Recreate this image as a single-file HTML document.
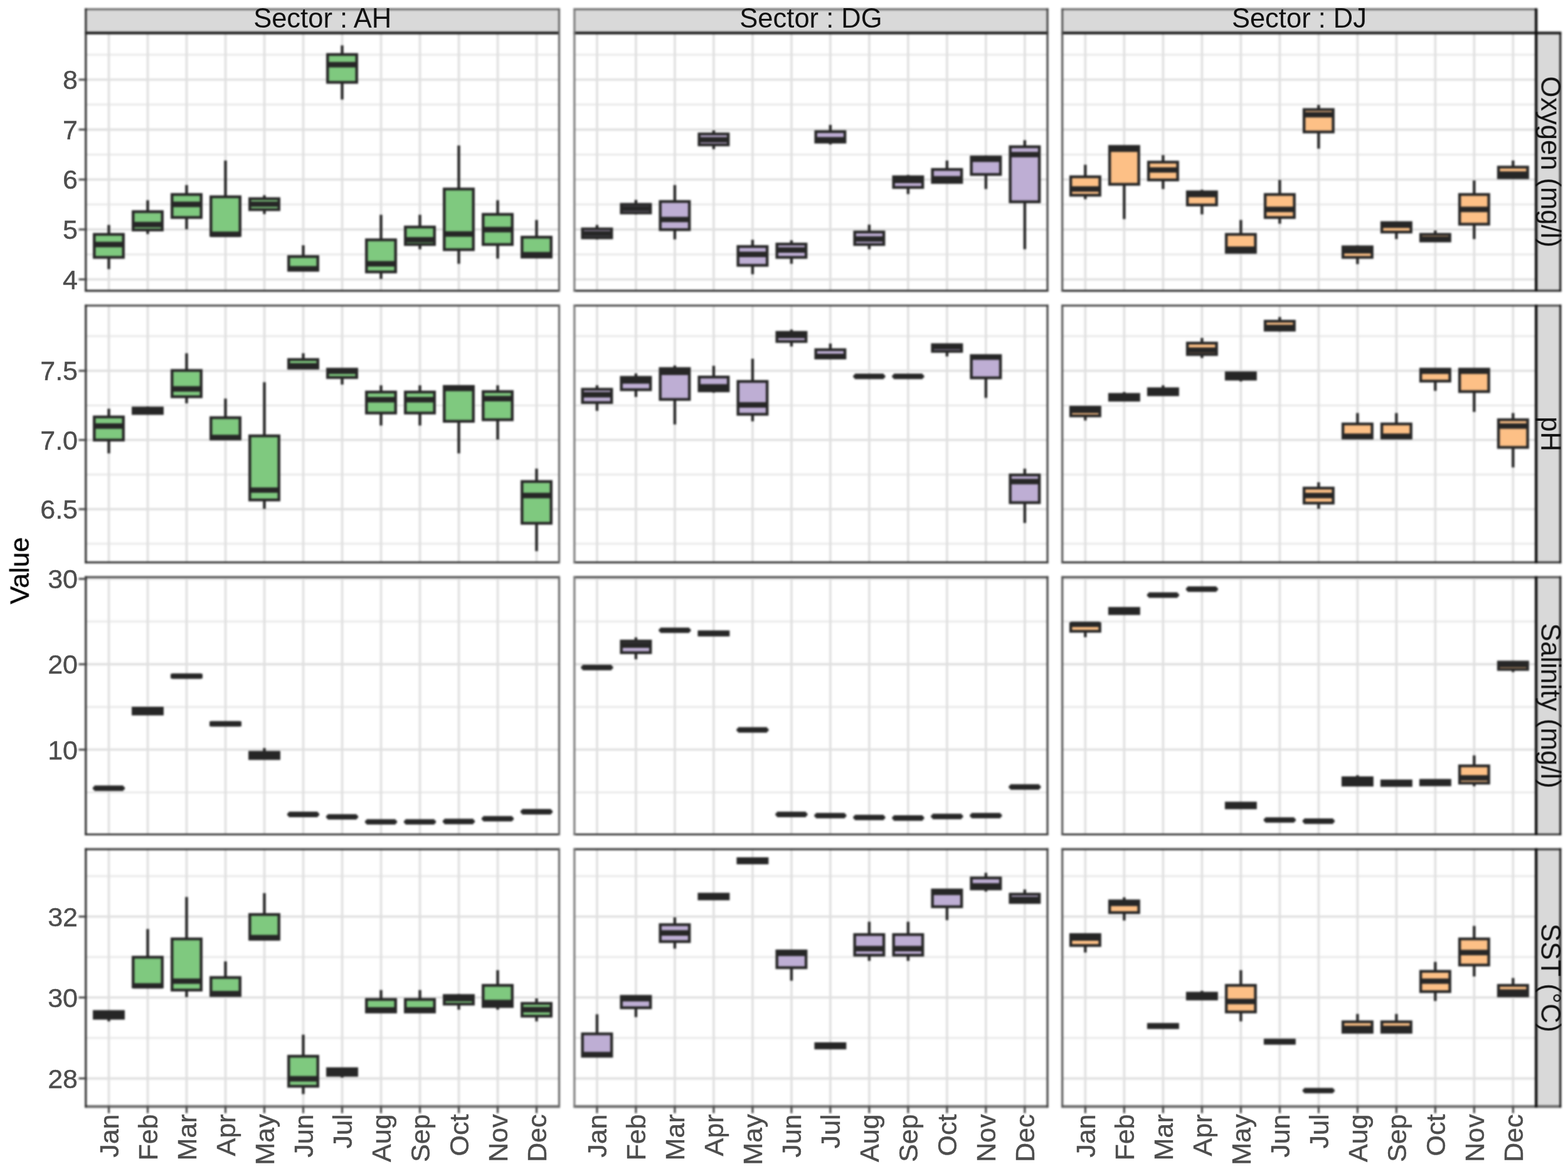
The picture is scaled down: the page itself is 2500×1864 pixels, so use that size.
<!DOCTYPE html>
<html><head><meta charset="utf-8"><title>Boxplots</title>
<style>html,body{margin:0;padding:0;background:#fff;}svg{display:block;}text{font-family:"Liberation Sans",Arial,Helvetica,sans-serif;}</style></head><body>
<svg xmlns="http://www.w3.org/2000/svg" width="2500" height="1864" viewBox="0 0 2500 1864">
<defs><filter id="bg" color-interpolation-filters="sRGB" x="-2%" y="-2%" width="104%" height="104%"><feGaussianBlur stdDeviation="1.4"/></filter><filter id="bt" color-interpolation-filters="sRGB" x="-5%" y="-5%" width="110%" height="110%"><feGaussianBlur stdDeviation="0.6"/></filter></defs>
<rect x="0" y="0" width="2500" height="1864" fill="#ffffff"/>
<g filter="url(#bg)">
<g>
<line x1="136.8" y1="405.69" x2="891.5" y2="405.69" stroke="#E9E9E9" stroke-width="3.0"/>
<line x1="136.8" y1="326.06" x2="891.5" y2="326.06" stroke="#E9E9E9" stroke-width="3.0"/>
<line x1="136.8" y1="246.44" x2="891.5" y2="246.44" stroke="#E9E9E9" stroke-width="3.0"/>
<line x1="136.8" y1="166.81" x2="891.5" y2="166.81" stroke="#E9E9E9" stroke-width="3.0"/>
<line x1="136.8" y1="87.19" x2="891.5" y2="87.19" stroke="#E9E9E9" stroke-width="3.0"/>
<line x1="136.8" y1="445.5" x2="891.5" y2="445.5" stroke="#E0E0E0" stroke-width="3.6"/>
<line x1="136.8" y1="365.88" x2="891.5" y2="365.88" stroke="#E0E0E0" stroke-width="3.6"/>
<line x1="136.8" y1="286.25" x2="891.5" y2="286.25" stroke="#E0E0E0" stroke-width="3.6"/>
<line x1="136.8" y1="206.62" x2="891.5" y2="206.62" stroke="#E0E0E0" stroke-width="3.6"/>
<line x1="136.8" y1="127" x2="891.5" y2="127" stroke="#E0E0E0" stroke-width="3.6"/>
<line x1="173.5" y1="52.65" x2="173.5" y2="463.6" stroke="#E0E0E0" stroke-width="3.6"/>
<line x1="235.5" y1="52.65" x2="235.5" y2="463.6" stroke="#E0E0E0" stroke-width="3.6"/>
<line x1="297.5" y1="52.65" x2="297.5" y2="463.6" stroke="#E0E0E0" stroke-width="3.6"/>
<line x1="359.5" y1="52.65" x2="359.5" y2="463.6" stroke="#E0E0E0" stroke-width="3.6"/>
<line x1="421.5" y1="52.65" x2="421.5" y2="463.6" stroke="#E0E0E0" stroke-width="3.6"/>
<line x1="483.5" y1="52.65" x2="483.5" y2="463.6" stroke="#E0E0E0" stroke-width="3.6"/>
<line x1="545.5" y1="52.65" x2="545.5" y2="463.6" stroke="#E0E0E0" stroke-width="3.6"/>
<line x1="607.5" y1="52.65" x2="607.5" y2="463.6" stroke="#E0E0E0" stroke-width="3.6"/>
<line x1="669.5" y1="52.65" x2="669.5" y2="463.6" stroke="#E0E0E0" stroke-width="3.6"/>
<line x1="731.5" y1="52.65" x2="731.5" y2="463.6" stroke="#E0E0E0" stroke-width="3.6"/>
<line x1="793.5" y1="52.65" x2="793.5" y2="463.6" stroke="#E0E0E0" stroke-width="3.6"/>
<line x1="855.5" y1="52.65" x2="855.5" y2="463.6" stroke="#E0E0E0" stroke-width="3.6"/>
<line x1="173.5" y1="358.7" x2="173.5" y2="373.7" stroke="#262626" stroke-width="4.4"/>
<line x1="173.5" y1="410.4" x2="173.5" y2="429.1" stroke="#262626" stroke-width="4.4"/>
<rect x="150.25" y="373.7" width="46.5" height="36.7" fill="#7FC97F" stroke="#262626" stroke-width="4.4"/>
<line x1="150.25" y1="389.9" x2="196.75" y2="389.9" stroke="#262626" stroke-width="8.7"/>
<line x1="235.5" y1="319.3" x2="235.5" y2="337.5" stroke="#262626" stroke-width="4.4"/>
<line x1="235.5" y1="366.7" x2="235.5" y2="373.2" stroke="#262626" stroke-width="4.4"/>
<rect x="212.25" y="337.5" width="46.5" height="29.2" fill="#7FC97F" stroke="#262626" stroke-width="4.4"/>
<line x1="212.25" y1="358.2" x2="258.75" y2="358.2" stroke="#262626" stroke-width="8.7"/>
<line x1="297.5" y1="295.1" x2="297.5" y2="310.1" stroke="#262626" stroke-width="4.4"/>
<line x1="297.5" y1="346.8" x2="297.5" y2="365.7" stroke="#262626" stroke-width="4.4"/>
<rect x="274.25" y="310.1" width="46.5" height="36.7" fill="#7FC97F" stroke="#262626" stroke-width="4.4"/>
<line x1="274.25" y1="325.8" x2="320.75" y2="325.8" stroke="#262626" stroke-width="8.7"/>
<line x1="359.5" y1="256" x2="359.5" y2="313.8" stroke="#262626" stroke-width="4.4"/>
<rect x="336.25" y="313.8" width="46.5" height="61.6" fill="#7FC97F" stroke="#262626" stroke-width="4.4"/>
<line x1="336.25" y1="373.7" x2="382.75" y2="373.7" stroke="#262626" stroke-width="8.7"/>
<line x1="421.5" y1="311.3" x2="421.5" y2="316.8" stroke="#262626" stroke-width="4.4"/>
<line x1="421.5" y1="334.3" x2="421.5" y2="341.3" stroke="#262626" stroke-width="4.4"/>
<rect x="398.25" y="316.8" width="46.5" height="17.5" fill="#7FC97F" stroke="#262626" stroke-width="4.4"/>
<line x1="398.25" y1="325.5" x2="444.75" y2="325.5" stroke="#262626" stroke-width="8.7"/>
<line x1="483.5" y1="391.1" x2="483.5" y2="409.1" stroke="#262626" stroke-width="4.4"/>
<rect x="460.25" y="409.1" width="46.5" height="21.9" fill="#7FC97F" stroke="#262626" stroke-width="4.4"/>
<line x1="460.25" y1="428.5" x2="506.75" y2="428.5" stroke="#262626" stroke-width="8.7"/>
<line x1="545.5" y1="72.4" x2="545.5" y2="86.9" stroke="#262626" stroke-width="4.4"/>
<line x1="545.5" y1="131.3" x2="545.5" y2="158.7" stroke="#262626" stroke-width="4.4"/>
<rect x="522.25" y="86.9" width="46.5" height="44.4" fill="#7FC97F" stroke="#262626" stroke-width="4.4"/>
<line x1="522.25" y1="103.1" x2="568.75" y2="103.1" stroke="#262626" stroke-width="8.7"/>
<line x1="607.5" y1="342.5" x2="607.5" y2="382.4" stroke="#262626" stroke-width="4.4"/>
<line x1="607.5" y1="433.6" x2="607.5" y2="444.8" stroke="#262626" stroke-width="4.4"/>
<rect x="584.25" y="382.4" width="46.5" height="51.2" fill="#7FC97F" stroke="#262626" stroke-width="4.4"/>
<line x1="584.25" y1="420.6" x2="630.75" y2="420.6" stroke="#262626" stroke-width="8.7"/>
<line x1="669.5" y1="342.5" x2="669.5" y2="362" stroke="#262626" stroke-width="4.4"/>
<line x1="669.5" y1="389.9" x2="669.5" y2="397.4" stroke="#262626" stroke-width="4.4"/>
<rect x="646.25" y="362" width="46.5" height="27.9" fill="#7FC97F" stroke="#262626" stroke-width="4.4"/>
<line x1="646.25" y1="382.4" x2="692.75" y2="382.4" stroke="#262626" stroke-width="8.7"/>
<line x1="731.5" y1="232" x2="731.5" y2="301.4" stroke="#262626" stroke-width="4.4"/>
<line x1="731.5" y1="398.1" x2="731.5" y2="420.6" stroke="#262626" stroke-width="4.4"/>
<rect x="708.25" y="301.4" width="46.5" height="96.7" fill="#7FC97F" stroke="#262626" stroke-width="4.4"/>
<line x1="708.25" y1="373.2" x2="754.75" y2="373.2" stroke="#262626" stroke-width="8.7"/>
<line x1="793.5" y1="319.3" x2="793.5" y2="341.8" stroke="#262626" stroke-width="4.4"/>
<line x1="793.5" y1="389.9" x2="793.5" y2="412.3" stroke="#262626" stroke-width="4.4"/>
<rect x="770.25" y="341.8" width="46.5" height="48.1" fill="#7FC97F" stroke="#262626" stroke-width="4.4"/>
<line x1="770.25" y1="366.2" x2="816.75" y2="366.2" stroke="#262626" stroke-width="8.7"/>
<line x1="855.5" y1="350.8" x2="855.5" y2="378.2" stroke="#262626" stroke-width="4.4"/>
<line x1="855.5" y1="409.9" x2="855.5" y2="411.1" stroke="#262626" stroke-width="4.4"/>
<rect x="832.25" y="378.2" width="46.5" height="31.7" fill="#7FC97F" stroke="#262626" stroke-width="4.4"/>
<line x1="832.25" y1="406.1" x2="878.75" y2="406.1" stroke="#262626" stroke-width="8.7"/>
</g>
<g>
<line x1="915.85" y1="405.69" x2="1670.1" y2="405.69" stroke="#E9E9E9" stroke-width="3.0"/>
<line x1="915.85" y1="326.06" x2="1670.1" y2="326.06" stroke="#E9E9E9" stroke-width="3.0"/>
<line x1="915.85" y1="246.44" x2="1670.1" y2="246.44" stroke="#E9E9E9" stroke-width="3.0"/>
<line x1="915.85" y1="166.81" x2="1670.1" y2="166.81" stroke="#E9E9E9" stroke-width="3.0"/>
<line x1="915.85" y1="87.19" x2="1670.1" y2="87.19" stroke="#E9E9E9" stroke-width="3.0"/>
<line x1="915.85" y1="445.5" x2="1670.1" y2="445.5" stroke="#E0E0E0" stroke-width="3.6"/>
<line x1="915.85" y1="365.88" x2="1670.1" y2="365.88" stroke="#E0E0E0" stroke-width="3.6"/>
<line x1="915.85" y1="286.25" x2="1670.1" y2="286.25" stroke="#E0E0E0" stroke-width="3.6"/>
<line x1="915.85" y1="206.62" x2="1670.1" y2="206.62" stroke="#E0E0E0" stroke-width="3.6"/>
<line x1="915.85" y1="127" x2="1670.1" y2="127" stroke="#E0E0E0" stroke-width="3.6"/>
<line x1="951.9" y1="52.65" x2="951.9" y2="463.6" stroke="#E0E0E0" stroke-width="3.6"/>
<line x1="1013.9" y1="52.65" x2="1013.9" y2="463.6" stroke="#E0E0E0" stroke-width="3.6"/>
<line x1="1075.9" y1="52.65" x2="1075.9" y2="463.6" stroke="#E0E0E0" stroke-width="3.6"/>
<line x1="1137.9" y1="52.65" x2="1137.9" y2="463.6" stroke="#E0E0E0" stroke-width="3.6"/>
<line x1="1199.9" y1="52.65" x2="1199.9" y2="463.6" stroke="#E0E0E0" stroke-width="3.6"/>
<line x1="1261.9" y1="52.65" x2="1261.9" y2="463.6" stroke="#E0E0E0" stroke-width="3.6"/>
<line x1="1323.9" y1="52.65" x2="1323.9" y2="463.6" stroke="#E0E0E0" stroke-width="3.6"/>
<line x1="1385.9" y1="52.65" x2="1385.9" y2="463.6" stroke="#E0E0E0" stroke-width="3.6"/>
<line x1="1447.9" y1="52.65" x2="1447.9" y2="463.6" stroke="#E0E0E0" stroke-width="3.6"/>
<line x1="1509.9" y1="52.65" x2="1509.9" y2="463.6" stroke="#E0E0E0" stroke-width="3.6"/>
<line x1="1571.9" y1="52.65" x2="1571.9" y2="463.6" stroke="#E0E0E0" stroke-width="3.6"/>
<line x1="1633.9" y1="52.65" x2="1633.9" y2="463.6" stroke="#E0E0E0" stroke-width="3.6"/>
<line x1="951.9" y1="358.7" x2="951.9" y2="365" stroke="#262626" stroke-width="4.4"/>
<line x1="951.9" y1="379.2" x2="951.9" y2="381.7" stroke="#262626" stroke-width="4.4"/>
<rect x="928.65" y="365" width="46.5" height="14.2" fill="#BEAED4" stroke="#262626" stroke-width="4.4"/>
<line x1="928.65" y1="372.5" x2="975.15" y2="372.5" stroke="#262626" stroke-width="8.7"/>
<line x1="1013.9" y1="318.8" x2="1013.9" y2="325.8" stroke="#262626" stroke-width="4.4"/>
<line x1="1013.9" y1="339.5" x2="1013.9" y2="341.8" stroke="#262626" stroke-width="4.4"/>
<rect x="990.65" y="325.8" width="46.5" height="13.7" fill="#BEAED4" stroke="#262626" stroke-width="4.4"/>
<line x1="990.65" y1="332.5" x2="1037.15" y2="332.5" stroke="#262626" stroke-width="8.7"/>
<line x1="1075.9" y1="295.1" x2="1075.9" y2="321.3" stroke="#262626" stroke-width="4.4"/>
<line x1="1075.9" y1="366.2" x2="1075.9" y2="381.7" stroke="#262626" stroke-width="4.4"/>
<rect x="1052.65" y="321.3" width="46.5" height="44.9" fill="#BEAED4" stroke="#262626" stroke-width="4.4"/>
<line x1="1052.65" y1="350" x2="1099.15" y2="350" stroke="#262626" stroke-width="8.7"/>
<line x1="1137.9" y1="207.9" x2="1137.9" y2="213.6" stroke="#262626" stroke-width="4.4"/>
<line x1="1137.9" y1="231" x2="1137.9" y2="237.8" stroke="#262626" stroke-width="4.4"/>
<rect x="1114.65" y="213.6" width="46.5" height="17.4" fill="#BEAED4" stroke="#262626" stroke-width="4.4"/>
<line x1="1114.65" y1="222.8" x2="1161.15" y2="222.8" stroke="#262626" stroke-width="8.7"/>
<line x1="1199.9" y1="382.4" x2="1199.9" y2="393.1" stroke="#262626" stroke-width="4.4"/>
<line x1="1199.9" y1="423.1" x2="1199.9" y2="437.3" stroke="#262626" stroke-width="4.4"/>
<rect x="1176.65" y="393.1" width="46.5" height="30" fill="#BEAED4" stroke="#262626" stroke-width="4.4"/>
<line x1="1176.65" y1="405.6" x2="1223.15" y2="405.6" stroke="#262626" stroke-width="8.7"/>
<line x1="1261.9" y1="383.2" x2="1261.9" y2="389.2" stroke="#262626" stroke-width="4.4"/>
<line x1="1261.9" y1="410.4" x2="1261.9" y2="420.6" stroke="#262626" stroke-width="4.4"/>
<rect x="1238.65" y="389.2" width="46.5" height="21.2" fill="#BEAED4" stroke="#262626" stroke-width="4.4"/>
<line x1="1238.65" y1="398.6" x2="1285.15" y2="398.6" stroke="#262626" stroke-width="8.7"/>
<line x1="1323.9" y1="199.1" x2="1323.9" y2="209.9" stroke="#262626" stroke-width="4.4"/>
<line x1="1323.9" y1="226.6" x2="1323.9" y2="230.3" stroke="#262626" stroke-width="4.4"/>
<rect x="1300.65" y="209.9" width="46.5" height="16.7" fill="#BEAED4" stroke="#262626" stroke-width="4.4"/>
<line x1="1300.65" y1="222.8" x2="1347.15" y2="222.8" stroke="#262626" stroke-width="8.7"/>
<line x1="1385.9" y1="358.2" x2="1385.9" y2="370" stroke="#262626" stroke-width="4.4"/>
<line x1="1385.9" y1="389.9" x2="1385.9" y2="397.4" stroke="#262626" stroke-width="4.4"/>
<rect x="1362.65" y="370" width="46.5" height="19.9" fill="#BEAED4" stroke="#262626" stroke-width="4.4"/>
<line x1="1362.65" y1="381.2" x2="1409.15" y2="381.2" stroke="#262626" stroke-width="8.7"/>
<line x1="1447.9" y1="279" x2="1447.9" y2="281.9" stroke="#262626" stroke-width="4.4"/>
<line x1="1447.9" y1="298.9" x2="1447.9" y2="309.4" stroke="#262626" stroke-width="4.4"/>
<rect x="1424.65" y="281.9" width="46.5" height="17" fill="#BEAED4" stroke="#262626" stroke-width="4.4"/>
<line x1="1424.65" y1="287.7" x2="1471.15" y2="287.7" stroke="#262626" stroke-width="8.7"/>
<line x1="1509.9" y1="256" x2="1509.9" y2="270.2" stroke="#262626" stroke-width="4.4"/>
<line x1="1509.9" y1="290.9" x2="1509.9" y2="292.6" stroke="#262626" stroke-width="4.4"/>
<rect x="1486.65" y="270.2" width="46.5" height="20.7" fill="#BEAED4" stroke="#262626" stroke-width="4.4"/>
<line x1="1486.65" y1="285.2" x2="1533.15" y2="285.2" stroke="#262626" stroke-width="8.7"/>
<line x1="1571.9" y1="247.8" x2="1571.9" y2="250.3" stroke="#262626" stroke-width="4.4"/>
<line x1="1571.9" y1="278.2" x2="1571.9" y2="301.4" stroke="#262626" stroke-width="4.4"/>
<rect x="1548.65" y="250.3" width="46.5" height="27.9" fill="#BEAED4" stroke="#262626" stroke-width="4.4"/>
<line x1="1548.65" y1="254" x2="1595.15" y2="254" stroke="#262626" stroke-width="8.7"/>
<line x1="1633.9" y1="223.6" x2="1633.9" y2="234" stroke="#262626" stroke-width="4.4"/>
<line x1="1633.9" y1="321.8" x2="1633.9" y2="397.4" stroke="#262626" stroke-width="4.4"/>
<rect x="1610.65" y="234" width="46.5" height="87.8" fill="#BEAED4" stroke="#262626" stroke-width="4.4"/>
<line x1="1610.65" y1="246.5" x2="1657.15" y2="246.5" stroke="#262626" stroke-width="8.7"/>
</g>
<g>
<line x1="1693.75" y1="405.69" x2="2449.2" y2="405.69" stroke="#E9E9E9" stroke-width="3.0"/>
<line x1="1693.75" y1="326.06" x2="2449.2" y2="326.06" stroke="#E9E9E9" stroke-width="3.0"/>
<line x1="1693.75" y1="246.44" x2="2449.2" y2="246.44" stroke="#E9E9E9" stroke-width="3.0"/>
<line x1="1693.75" y1="166.81" x2="2449.2" y2="166.81" stroke="#E9E9E9" stroke-width="3.0"/>
<line x1="1693.75" y1="87.19" x2="2449.2" y2="87.19" stroke="#E9E9E9" stroke-width="3.0"/>
<line x1="1693.75" y1="445.5" x2="2449.2" y2="445.5" stroke="#E0E0E0" stroke-width="3.6"/>
<line x1="1693.75" y1="365.88" x2="2449.2" y2="365.88" stroke="#E0E0E0" stroke-width="3.6"/>
<line x1="1693.75" y1="286.25" x2="2449.2" y2="286.25" stroke="#E0E0E0" stroke-width="3.6"/>
<line x1="1693.75" y1="206.62" x2="2449.2" y2="206.62" stroke="#E0E0E0" stroke-width="3.6"/>
<line x1="1693.75" y1="127" x2="2449.2" y2="127" stroke="#E0E0E0" stroke-width="3.6"/>
<line x1="1730.4" y1="52.65" x2="1730.4" y2="463.6" stroke="#E0E0E0" stroke-width="3.6"/>
<line x1="1792.4" y1="52.65" x2="1792.4" y2="463.6" stroke="#E0E0E0" stroke-width="3.6"/>
<line x1="1854.4" y1="52.65" x2="1854.4" y2="463.6" stroke="#E0E0E0" stroke-width="3.6"/>
<line x1="1916.4" y1="52.65" x2="1916.4" y2="463.6" stroke="#E0E0E0" stroke-width="3.6"/>
<line x1="1978.4" y1="52.65" x2="1978.4" y2="463.6" stroke="#E0E0E0" stroke-width="3.6"/>
<line x1="2040.4" y1="52.65" x2="2040.4" y2="463.6" stroke="#E0E0E0" stroke-width="3.6"/>
<line x1="2102.4" y1="52.65" x2="2102.4" y2="463.6" stroke="#E0E0E0" stroke-width="3.6"/>
<line x1="2164.4" y1="52.65" x2="2164.4" y2="463.6" stroke="#E0E0E0" stroke-width="3.6"/>
<line x1="2226.4" y1="52.65" x2="2226.4" y2="463.6" stroke="#E0E0E0" stroke-width="3.6"/>
<line x1="2288.4" y1="52.65" x2="2288.4" y2="463.6" stroke="#E0E0E0" stroke-width="3.6"/>
<line x1="2350.4" y1="52.65" x2="2350.4" y2="463.6" stroke="#E0E0E0" stroke-width="3.6"/>
<line x1="2412.4" y1="52.65" x2="2412.4" y2="463.6" stroke="#E0E0E0" stroke-width="3.6"/>
<line x1="1730.4" y1="262.7" x2="1730.4" y2="281.9" stroke="#262626" stroke-width="4.4"/>
<line x1="1730.4" y1="311.3" x2="1730.4" y2="317.6" stroke="#262626" stroke-width="4.4"/>
<rect x="1707.15" y="281.9" width="46.5" height="29.4" fill="#FDC086" stroke="#262626" stroke-width="4.4"/>
<line x1="1707.15" y1="301.4" x2="1753.65" y2="301.4" stroke="#262626" stroke-width="8.7"/>
<line x1="1792.4" y1="232" x2="1792.4" y2="233.5" stroke="#262626" stroke-width="4.4"/>
<line x1="1792.4" y1="293.9" x2="1792.4" y2="349.3" stroke="#262626" stroke-width="4.4"/>
<rect x="1769.15" y="233.5" width="46.5" height="60.4" fill="#FDC086" stroke="#262626" stroke-width="4.4"/>
<line x1="1769.15" y1="237.8" x2="1815.65" y2="237.8" stroke="#262626" stroke-width="8.7"/>
<line x1="1854.4" y1="247.3" x2="1854.4" y2="258.5" stroke="#262626" stroke-width="4.4"/>
<line x1="1854.4" y1="286.9" x2="1854.4" y2="301.4" stroke="#262626" stroke-width="4.4"/>
<rect x="1831.15" y="258.5" width="46.5" height="28.4" fill="#FDC086" stroke="#262626" stroke-width="4.4"/>
<line x1="1831.15" y1="271" x2="1877.65" y2="271" stroke="#262626" stroke-width="8.7"/>
<line x1="1916.4" y1="302.6" x2="1916.4" y2="305.9" stroke="#262626" stroke-width="4.4"/>
<line x1="1916.4" y1="326.8" x2="1916.4" y2="341.8" stroke="#262626" stroke-width="4.4"/>
<rect x="1893.15" y="305.9" width="46.5" height="20.9" fill="#FDC086" stroke="#262626" stroke-width="4.4"/>
<line x1="1893.15" y1="310.1" x2="1939.65" y2="310.1" stroke="#262626" stroke-width="8.7"/>
<line x1="1978.4" y1="350.8" x2="1978.4" y2="373.7" stroke="#262626" stroke-width="4.4"/>
<line x1="1978.4" y1="402.4" x2="1978.4" y2="404.1" stroke="#262626" stroke-width="4.4"/>
<rect x="1955.15" y="373.7" width="46.5" height="28.7" fill="#FDC086" stroke="#262626" stroke-width="4.4"/>
<line x1="1955.15" y1="397.4" x2="2001.65" y2="397.4" stroke="#262626" stroke-width="8.7"/>
<line x1="2040.4" y1="286.9" x2="2040.4" y2="310.1" stroke="#262626" stroke-width="4.4"/>
<line x1="2040.4" y1="346.8" x2="2040.4" y2="356.7" stroke="#262626" stroke-width="4.4"/>
<rect x="2017.15" y="310.1" width="46.5" height="36.7" fill="#FDC086" stroke="#262626" stroke-width="4.4"/>
<line x1="2017.15" y1="333.8" x2="2063.65" y2="333.8" stroke="#262626" stroke-width="8.7"/>
<line x1="2102.4" y1="167.2" x2="2102.4" y2="174.7" stroke="#262626" stroke-width="4.4"/>
<line x1="2102.4" y1="210.4" x2="2102.4" y2="237" stroke="#262626" stroke-width="4.4"/>
<rect x="2079.15" y="174.7" width="46.5" height="35.7" fill="#FDC086" stroke="#262626" stroke-width="4.4"/>
<line x1="2079.15" y1="182.9" x2="2125.65" y2="182.9" stroke="#262626" stroke-width="8.7"/>
<line x1="2164.4" y1="391.2" x2="2164.4" y2="393.6" stroke="#262626" stroke-width="4.4"/>
<line x1="2164.4" y1="410.4" x2="2164.4" y2="421.1" stroke="#262626" stroke-width="4.4"/>
<rect x="2141.15" y="393.6" width="46.5" height="16.8" fill="#FDC086" stroke="#262626" stroke-width="4.4"/>
<line x1="2141.15" y1="399.9" x2="2187.65" y2="399.9" stroke="#262626" stroke-width="8.7"/>
<line x1="2226.4" y1="353.7" x2="2226.4" y2="355" stroke="#262626" stroke-width="4.4"/>
<line x1="2226.4" y1="370" x2="2226.4" y2="381.2" stroke="#262626" stroke-width="4.4"/>
<rect x="2203.15" y="355" width="46.5" height="15" fill="#FDC086" stroke="#262626" stroke-width="4.4"/>
<line x1="2203.15" y1="359.2" x2="2249.65" y2="359.2" stroke="#262626" stroke-width="8.7"/>
<line x1="2288.4" y1="367.5" x2="2288.4" y2="373.7" stroke="#262626" stroke-width="4.4"/>
<line x1="2288.4" y1="384.2" x2="2288.4" y2="385.4" stroke="#262626" stroke-width="4.4"/>
<rect x="2265.15" y="373.7" width="46.5" height="10.5" fill="#FDC086" stroke="#262626" stroke-width="4.4"/>
<line x1="2265.15" y1="381.2" x2="2311.65" y2="381.2" stroke="#262626" stroke-width="8.7"/>
<line x1="2350.4" y1="287.7" x2="2350.4" y2="310.1" stroke="#262626" stroke-width="4.4"/>
<line x1="2350.4" y1="357.5" x2="2350.4" y2="381.2" stroke="#262626" stroke-width="4.4"/>
<rect x="2327.15" y="310.1" width="46.5" height="47.4" fill="#FDC086" stroke="#262626" stroke-width="4.4"/>
<line x1="2327.15" y1="333.8" x2="2373.65" y2="333.8" stroke="#262626" stroke-width="8.7"/>
<line x1="2412.4" y1="256" x2="2412.4" y2="266.5" stroke="#262626" stroke-width="4.4"/>
<line x1="2412.4" y1="283.4" x2="2412.4" y2="285.2" stroke="#262626" stroke-width="4.4"/>
<rect x="2389.15" y="266.5" width="46.5" height="16.9" fill="#FDC086" stroke="#262626" stroke-width="4.4"/>
<line x1="2389.15" y1="277.7" x2="2435.65" y2="277.7" stroke="#262626" stroke-width="8.7"/>
</g>
<g>
<line x1="136.8" y1="867.07" x2="891.5" y2="867.07" stroke="#E9E9E9" stroke-width="3.0"/>
<line x1="136.8" y1="756.73" x2="891.5" y2="756.73" stroke="#E9E9E9" stroke-width="3.0"/>
<line x1="136.8" y1="646.38" x2="891.5" y2="646.38" stroke="#E9E9E9" stroke-width="3.0"/>
<line x1="136.8" y1="536.03" x2="891.5" y2="536.03" stroke="#E9E9E9" stroke-width="3.0"/>
<line x1="136.8" y1="811.9" x2="891.5" y2="811.9" stroke="#E0E0E0" stroke-width="3.6"/>
<line x1="136.8" y1="701.55" x2="891.5" y2="701.55" stroke="#E0E0E0" stroke-width="3.6"/>
<line x1="136.8" y1="591.2" x2="891.5" y2="591.2" stroke="#E0E0E0" stroke-width="3.6"/>
<line x1="173.5" y1="487.2" x2="173.5" y2="896.7" stroke="#E0E0E0" stroke-width="3.6"/>
<line x1="235.5" y1="487.2" x2="235.5" y2="896.7" stroke="#E0E0E0" stroke-width="3.6"/>
<line x1="297.5" y1="487.2" x2="297.5" y2="896.7" stroke="#E0E0E0" stroke-width="3.6"/>
<line x1="359.5" y1="487.2" x2="359.5" y2="896.7" stroke="#E0E0E0" stroke-width="3.6"/>
<line x1="421.5" y1="487.2" x2="421.5" y2="896.7" stroke="#E0E0E0" stroke-width="3.6"/>
<line x1="483.5" y1="487.2" x2="483.5" y2="896.7" stroke="#E0E0E0" stroke-width="3.6"/>
<line x1="545.5" y1="487.2" x2="545.5" y2="896.7" stroke="#E0E0E0" stroke-width="3.6"/>
<line x1="607.5" y1="487.2" x2="607.5" y2="896.7" stroke="#E0E0E0" stroke-width="3.6"/>
<line x1="669.5" y1="487.2" x2="669.5" y2="896.7" stroke="#E0E0E0" stroke-width="3.6"/>
<line x1="731.5" y1="487.2" x2="731.5" y2="896.7" stroke="#E0E0E0" stroke-width="3.6"/>
<line x1="793.5" y1="487.2" x2="793.5" y2="896.7" stroke="#E0E0E0" stroke-width="3.6"/>
<line x1="855.5" y1="487.2" x2="855.5" y2="896.7" stroke="#E0E0E0" stroke-width="3.6"/>
<line x1="173.5" y1="651.8" x2="173.5" y2="664.8" stroke="#262626" stroke-width="4.4"/>
<line x1="173.5" y1="701.7" x2="173.5" y2="722.9" stroke="#262626" stroke-width="4.4"/>
<rect x="150.25" y="664.8" width="46.5" height="36.9" fill="#7FC97F" stroke="#262626" stroke-width="4.4"/>
<line x1="150.25" y1="679.3" x2="196.75" y2="679.3" stroke="#262626" stroke-width="8.7"/>
<line x1="235.5" y1="648.1" x2="235.5" y2="650.6" stroke="#262626" stroke-width="4.4"/>
<line x1="235.5" y1="659.3" x2="235.5" y2="660.6" stroke="#262626" stroke-width="4.4"/>
<rect x="212.25" y="650.6" width="46.5" height="8.7" fill="#7FC97F" stroke="#262626" stroke-width="4.4"/>
<line x1="212.25" y1="654.3" x2="258.75" y2="654.3" stroke="#262626" stroke-width="8.7"/>
<line x1="297.5" y1="563.3" x2="297.5" y2="590.7" stroke="#262626" stroke-width="4.4"/>
<line x1="297.5" y1="632.6" x2="297.5" y2="643.1" stroke="#262626" stroke-width="4.4"/>
<rect x="274.25" y="590.7" width="46.5" height="41.9" fill="#7FC97F" stroke="#262626" stroke-width="4.4"/>
<line x1="274.25" y1="620.2" x2="320.75" y2="620.2" stroke="#262626" stroke-width="8.7"/>
<line x1="359.5" y1="635.6" x2="359.5" y2="666" stroke="#262626" stroke-width="4.4"/>
<line x1="359.5" y1="700" x2="359.5" y2="701" stroke="#262626" stroke-width="4.4"/>
<rect x="336.25" y="666" width="46.5" height="34" fill="#7FC97F" stroke="#262626" stroke-width="4.4"/>
<line x1="336.25" y1="697.5" x2="382.75" y2="697.5" stroke="#262626" stroke-width="8.7"/>
<line x1="421.5" y1="609.4" x2="421.5" y2="695" stroke="#262626" stroke-width="4.4"/>
<line x1="421.5" y1="797.2" x2="421.5" y2="811.4" stroke="#262626" stroke-width="4.4"/>
<rect x="398.25" y="695" width="46.5" height="102.2" fill="#7FC97F" stroke="#262626" stroke-width="4.4"/>
<line x1="398.25" y1="781.5" x2="444.75" y2="781.5" stroke="#262626" stroke-width="8.7"/>
<line x1="483.5" y1="563.3" x2="483.5" y2="573.3" stroke="#262626" stroke-width="4.4"/>
<line x1="483.5" y1="587" x2="483.5" y2="588.2" stroke="#262626" stroke-width="4.4"/>
<rect x="460.25" y="573.3" width="46.5" height="13.7" fill="#7FC97F" stroke="#262626" stroke-width="4.4"/>
<line x1="460.25" y1="583.3" x2="506.75" y2="583.3" stroke="#262626" stroke-width="8.7"/>
<line x1="545.5" y1="588.2" x2="545.5" y2="588.7" stroke="#262626" stroke-width="4.4"/>
<line x1="545.5" y1="602" x2="545.5" y2="613.2" stroke="#262626" stroke-width="4.4"/>
<rect x="522.25" y="588.7" width="46.5" height="13.3" fill="#7FC97F" stroke="#262626" stroke-width="4.4"/>
<line x1="522.25" y1="592" x2="568.75" y2="592" stroke="#262626" stroke-width="8.7"/>
<line x1="607.5" y1="614.4" x2="607.5" y2="625.1" stroke="#262626" stroke-width="4.4"/>
<line x1="607.5" y1="658.6" x2="607.5" y2="678.5" stroke="#262626" stroke-width="4.4"/>
<rect x="584.25" y="625.1" width="46.5" height="33.5" fill="#7FC97F" stroke="#262626" stroke-width="4.4"/>
<line x1="584.25" y1="637.4" x2="630.75" y2="637.4" stroke="#262626" stroke-width="8.7"/>
<line x1="669.5" y1="614.4" x2="669.5" y2="625.1" stroke="#262626" stroke-width="4.4"/>
<line x1="669.5" y1="658.6" x2="669.5" y2="678.5" stroke="#262626" stroke-width="4.4"/>
<rect x="646.25" y="625.1" width="46.5" height="33.5" fill="#7FC97F" stroke="#262626" stroke-width="4.4"/>
<line x1="646.25" y1="637.4" x2="692.75" y2="637.4" stroke="#262626" stroke-width="8.7"/>
<line x1="731.5" y1="615.2" x2="731.5" y2="616.2" stroke="#262626" stroke-width="4.4"/>
<line x1="731.5" y1="671.8" x2="731.5" y2="722.9" stroke="#262626" stroke-width="4.4"/>
<rect x="708.25" y="616.2" width="46.5" height="55.6" fill="#7FC97F" stroke="#262626" stroke-width="4.4"/>
<line x1="708.25" y1="619.4" x2="754.75" y2="619.4" stroke="#262626" stroke-width="8.7"/>
<line x1="793.5" y1="614.4" x2="793.5" y2="624.4" stroke="#262626" stroke-width="4.4"/>
<line x1="793.5" y1="669.3" x2="793.5" y2="701" stroke="#262626" stroke-width="4.4"/>
<rect x="770.25" y="624.4" width="46.5" height="44.9" fill="#7FC97F" stroke="#262626" stroke-width="4.4"/>
<line x1="770.25" y1="635.6" x2="816.75" y2="635.6" stroke="#262626" stroke-width="8.7"/>
<line x1="855.5" y1="747.3" x2="855.5" y2="767.8" stroke="#262626" stroke-width="4.4"/>
<line x1="855.5" y1="834.4" x2="855.5" y2="878.8" stroke="#262626" stroke-width="4.4"/>
<rect x="832.25" y="767.8" width="46.5" height="66.6" fill="#7FC97F" stroke="#262626" stroke-width="4.4"/>
<line x1="832.25" y1="790.2" x2="878.75" y2="790.2" stroke="#262626" stroke-width="8.7"/>
</g>
<g>
<line x1="915.85" y1="867.07" x2="1670.1" y2="867.07" stroke="#E9E9E9" stroke-width="3.0"/>
<line x1="915.85" y1="756.73" x2="1670.1" y2="756.73" stroke="#E9E9E9" stroke-width="3.0"/>
<line x1="915.85" y1="646.38" x2="1670.1" y2="646.38" stroke="#E9E9E9" stroke-width="3.0"/>
<line x1="915.85" y1="536.03" x2="1670.1" y2="536.03" stroke="#E9E9E9" stroke-width="3.0"/>
<line x1="915.85" y1="811.9" x2="1670.1" y2="811.9" stroke="#E0E0E0" stroke-width="3.6"/>
<line x1="915.85" y1="701.55" x2="1670.1" y2="701.55" stroke="#E0E0E0" stroke-width="3.6"/>
<line x1="915.85" y1="591.2" x2="1670.1" y2="591.2" stroke="#E0E0E0" stroke-width="3.6"/>
<line x1="951.9" y1="487.2" x2="951.9" y2="896.7" stroke="#E0E0E0" stroke-width="3.6"/>
<line x1="1013.9" y1="487.2" x2="1013.9" y2="896.7" stroke="#E0E0E0" stroke-width="3.6"/>
<line x1="1075.9" y1="487.2" x2="1075.9" y2="896.7" stroke="#E0E0E0" stroke-width="3.6"/>
<line x1="1137.9" y1="487.2" x2="1137.9" y2="896.7" stroke="#E0E0E0" stroke-width="3.6"/>
<line x1="1199.9" y1="487.2" x2="1199.9" y2="896.7" stroke="#E0E0E0" stroke-width="3.6"/>
<line x1="1261.9" y1="487.2" x2="1261.9" y2="896.7" stroke="#E0E0E0" stroke-width="3.6"/>
<line x1="1323.9" y1="487.2" x2="1323.9" y2="896.7" stroke="#E0E0E0" stroke-width="3.6"/>
<line x1="1385.9" y1="487.2" x2="1385.9" y2="896.7" stroke="#E0E0E0" stroke-width="3.6"/>
<line x1="1447.9" y1="487.2" x2="1447.9" y2="896.7" stroke="#E0E0E0" stroke-width="3.6"/>
<line x1="1509.9" y1="487.2" x2="1509.9" y2="896.7" stroke="#E0E0E0" stroke-width="3.6"/>
<line x1="1571.9" y1="487.2" x2="1571.9" y2="896.7" stroke="#E0E0E0" stroke-width="3.6"/>
<line x1="1633.9" y1="487.2" x2="1633.9" y2="896.7" stroke="#E0E0E0" stroke-width="3.6"/>
<line x1="951.9" y1="614.4" x2="951.9" y2="620.7" stroke="#262626" stroke-width="4.4"/>
<line x1="951.9" y1="641.9" x2="951.9" y2="655.1" stroke="#262626" stroke-width="4.4"/>
<rect x="928.65" y="620.7" width="46.5" height="21.2" fill="#BEAED4" stroke="#262626" stroke-width="4.4"/>
<line x1="928.65" y1="629.4" x2="975.15" y2="629.4" stroke="#262626" stroke-width="8.7"/>
<line x1="1013.9" y1="595.5" x2="1013.9" y2="601.7" stroke="#262626" stroke-width="4.4"/>
<line x1="1013.9" y1="621.4" x2="1013.9" y2="632.9" stroke="#262626" stroke-width="4.4"/>
<rect x="990.65" y="601.7" width="46.5" height="19.7" fill="#BEAED4" stroke="#262626" stroke-width="4.4"/>
<line x1="990.65" y1="607.5" x2="1037.15" y2="607.5" stroke="#262626" stroke-width="8.7"/>
<line x1="1075.9" y1="582.8" x2="1075.9" y2="587.7" stroke="#262626" stroke-width="4.4"/>
<line x1="1075.9" y1="636.9" x2="1075.9" y2="676.8" stroke="#262626" stroke-width="4.4"/>
<rect x="1052.65" y="587.7" width="46.5" height="49.2" fill="#BEAED4" stroke="#262626" stroke-width="4.4"/>
<line x1="1052.65" y1="593.7" x2="1099.15" y2="593.7" stroke="#262626" stroke-width="8.7"/>
<line x1="1137.9" y1="583.3" x2="1137.9" y2="601.2" stroke="#262626" stroke-width="4.4"/>
<line x1="1137.9" y1="623.2" x2="1137.9" y2="626.2" stroke="#262626" stroke-width="4.4"/>
<rect x="1114.65" y="601.2" width="46.5" height="22" fill="#BEAED4" stroke="#262626" stroke-width="4.4"/>
<line x1="1114.65" y1="616.9" x2="1161.15" y2="616.9" stroke="#262626" stroke-width="8.7"/>
<line x1="1199.9" y1="572" x2="1199.9" y2="608.2" stroke="#262626" stroke-width="4.4"/>
<line x1="1199.9" y1="660.6" x2="1199.9" y2="671.8" stroke="#262626" stroke-width="4.4"/>
<rect x="1176.65" y="608.2" width="46.5" height="52.4" fill="#BEAED4" stroke="#262626" stroke-width="4.4"/>
<line x1="1176.65" y1="645.6" x2="1223.15" y2="645.6" stroke="#262626" stroke-width="8.7"/>
<line x1="1261.9" y1="525.5" x2="1261.9" y2="530" stroke="#262626" stroke-width="4.4"/>
<line x1="1261.9" y1="544.5" x2="1261.9" y2="552.5" stroke="#262626" stroke-width="4.4"/>
<rect x="1238.65" y="530" width="46.5" height="14.5" fill="#BEAED4" stroke="#262626" stroke-width="4.4"/>
<line x1="1238.65" y1="535" x2="1285.15" y2="535" stroke="#262626" stroke-width="8.7"/>
<line x1="1323.9" y1="547.8" x2="1323.9" y2="557.6" stroke="#262626" stroke-width="4.4"/>
<line x1="1323.9" y1="570.8" x2="1323.9" y2="572" stroke="#262626" stroke-width="4.4"/>
<rect x="1300.65" y="557.6" width="46.5" height="13.2" fill="#BEAED4" stroke="#262626" stroke-width="4.4"/>
<line x1="1300.65" y1="568.3" x2="1347.15" y2="568.3" stroke="#262626" stroke-width="8.7"/>
<rect x="1362.65" y="600.2" width="46.5" height="0.01" fill="#BEAED4" stroke="#262626" stroke-width="4.4"/>
<line x1="1362.65" y1="600.2" x2="1409.15" y2="600.2" stroke="#262626" stroke-width="8.7"/>
<rect x="1424.65" y="600.2" width="46.5" height="0.01" fill="#BEAED4" stroke="#262626" stroke-width="4.4"/>
<line x1="1424.65" y1="600.2" x2="1471.15" y2="600.2" stroke="#262626" stroke-width="8.7"/>
<line x1="1509.9" y1="548.3" x2="1509.9" y2="549.6" stroke="#262626" stroke-width="4.4"/>
<line x1="1509.9" y1="560.3" x2="1509.9" y2="568.3" stroke="#262626" stroke-width="4.4"/>
<rect x="1486.65" y="549.6" width="46.5" height="10.7" fill="#BEAED4" stroke="#262626" stroke-width="4.4"/>
<line x1="1486.65" y1="552.8" x2="1533.15" y2="552.8" stroke="#262626" stroke-width="8.7"/>
<line x1="1571.9" y1="565.8" x2="1571.9" y2="567" stroke="#262626" stroke-width="4.4"/>
<line x1="1571.9" y1="602.5" x2="1571.9" y2="634.4" stroke="#262626" stroke-width="4.4"/>
<rect x="1548.65" y="567" width="46.5" height="35.5" fill="#BEAED4" stroke="#262626" stroke-width="4.4"/>
<line x1="1548.65" y1="569.5" x2="1595.15" y2="569.5" stroke="#262626" stroke-width="8.7"/>
<line x1="1633.9" y1="747.3" x2="1633.9" y2="757.3" stroke="#262626" stroke-width="4.4"/>
<line x1="1633.9" y1="801.5" x2="1633.9" y2="833.9" stroke="#262626" stroke-width="4.4"/>
<rect x="1610.65" y="757.3" width="46.5" height="44.2" fill="#BEAED4" stroke="#262626" stroke-width="4.4"/>
<line x1="1610.65" y1="767.8" x2="1657.15" y2="767.8" stroke="#262626" stroke-width="8.7"/>
</g>
<g>
<line x1="1693.75" y1="867.07" x2="2449.2" y2="867.07" stroke="#E9E9E9" stroke-width="3.0"/>
<line x1="1693.75" y1="756.73" x2="2449.2" y2="756.73" stroke="#E9E9E9" stroke-width="3.0"/>
<line x1="1693.75" y1="646.38" x2="2449.2" y2="646.38" stroke="#E9E9E9" stroke-width="3.0"/>
<line x1="1693.75" y1="536.03" x2="2449.2" y2="536.03" stroke="#E9E9E9" stroke-width="3.0"/>
<line x1="1693.75" y1="811.9" x2="2449.2" y2="811.9" stroke="#E0E0E0" stroke-width="3.6"/>
<line x1="1693.75" y1="701.55" x2="2449.2" y2="701.55" stroke="#E0E0E0" stroke-width="3.6"/>
<line x1="1693.75" y1="591.2" x2="2449.2" y2="591.2" stroke="#E0E0E0" stroke-width="3.6"/>
<line x1="1730.4" y1="487.2" x2="1730.4" y2="896.7" stroke="#E0E0E0" stroke-width="3.6"/>
<line x1="1792.4" y1="487.2" x2="1792.4" y2="896.7" stroke="#E0E0E0" stroke-width="3.6"/>
<line x1="1854.4" y1="487.2" x2="1854.4" y2="896.7" stroke="#E0E0E0" stroke-width="3.6"/>
<line x1="1916.4" y1="487.2" x2="1916.4" y2="896.7" stroke="#E0E0E0" stroke-width="3.6"/>
<line x1="1978.4" y1="487.2" x2="1978.4" y2="896.7" stroke="#E0E0E0" stroke-width="3.6"/>
<line x1="2040.4" y1="487.2" x2="2040.4" y2="896.7" stroke="#E0E0E0" stroke-width="3.6"/>
<line x1="2102.4" y1="487.2" x2="2102.4" y2="896.7" stroke="#E0E0E0" stroke-width="3.6"/>
<line x1="2164.4" y1="487.2" x2="2164.4" y2="896.7" stroke="#E0E0E0" stroke-width="3.6"/>
<line x1="2226.4" y1="487.2" x2="2226.4" y2="896.7" stroke="#E0E0E0" stroke-width="3.6"/>
<line x1="2288.4" y1="487.2" x2="2288.4" y2="896.7" stroke="#E0E0E0" stroke-width="3.6"/>
<line x1="2350.4" y1="487.2" x2="2350.4" y2="896.7" stroke="#E0E0E0" stroke-width="3.6"/>
<line x1="2412.4" y1="487.2" x2="2412.4" y2="896.7" stroke="#E0E0E0" stroke-width="3.6"/>
<line x1="1730.4" y1="647.6" x2="1730.4" y2="649.3" stroke="#262626" stroke-width="4.4"/>
<line x1="1730.4" y1="663.1" x2="1730.4" y2="670.5" stroke="#262626" stroke-width="4.4"/>
<rect x="1707.15" y="649.3" width="46.5" height="13.8" fill="#FDC086" stroke="#262626" stroke-width="4.4"/>
<line x1="1707.15" y1="654.3" x2="1753.65" y2="654.3" stroke="#262626" stroke-width="8.7"/>
<line x1="1792.4" y1="625.2" x2="1792.4" y2="628.9" stroke="#262626" stroke-width="4.4"/>
<line x1="1792.4" y1="638.1" x2="1792.4" y2="638.6" stroke="#262626" stroke-width="4.4"/>
<rect x="1769.15" y="628.9" width="46.5" height="9.2" fill="#FDC086" stroke="#262626" stroke-width="4.4"/>
<line x1="1769.15" y1="633.1" x2="1815.65" y2="633.1" stroke="#262626" stroke-width="8.7"/>
<line x1="1854.4" y1="614.4" x2="1854.4" y2="619.9" stroke="#262626" stroke-width="4.4"/>
<line x1="1854.4" y1="629.4" x2="1854.4" y2="630.1" stroke="#262626" stroke-width="4.4"/>
<rect x="1831.15" y="619.9" width="46.5" height="9.5" fill="#FDC086" stroke="#262626" stroke-width="4.4"/>
<line x1="1831.15" y1="624.4" x2="1877.65" y2="624.4" stroke="#262626" stroke-width="8.7"/>
<line x1="1916.4" y1="538.9" x2="1916.4" y2="547.1" stroke="#262626" stroke-width="4.4"/>
<line x1="1916.4" y1="565.3" x2="1916.4" y2="570.8" stroke="#262626" stroke-width="4.4"/>
<rect x="1893.15" y="547.1" width="46.5" height="18.2" fill="#FDC086" stroke="#262626" stroke-width="4.4"/>
<line x1="1893.15" y1="558.3" x2="1939.65" y2="558.3" stroke="#262626" stroke-width="8.7"/>
<line x1="1978.4" y1="593.7" x2="1978.4" y2="594.5" stroke="#262626" stroke-width="4.4"/>
<line x1="1978.4" y1="604.5" x2="1978.4" y2="608.2" stroke="#262626" stroke-width="4.4"/>
<rect x="1955.15" y="594.5" width="46.5" height="10" fill="#FDC086" stroke="#262626" stroke-width="4.4"/>
<line x1="1955.15" y1="599.5" x2="2001.65" y2="599.5" stroke="#262626" stroke-width="8.7"/>
<line x1="2040.4" y1="505.5" x2="2040.4" y2="512.2" stroke="#262626" stroke-width="4.4"/>
<line x1="2040.4" y1="526.4" x2="2040.4" y2="528.4" stroke="#262626" stroke-width="4.4"/>
<rect x="2017.15" y="512.2" width="46.5" height="14.2" fill="#FDC086" stroke="#262626" stroke-width="4.4"/>
<line x1="2017.15" y1="522.2" x2="2063.65" y2="522.2" stroke="#262626" stroke-width="8.7"/>
<line x1="2102.4" y1="769" x2="2102.4" y2="778.3" stroke="#262626" stroke-width="4.4"/>
<line x1="2102.4" y1="802.2" x2="2102.4" y2="811.4" stroke="#262626" stroke-width="4.4"/>
<rect x="2079.15" y="778.3" width="46.5" height="23.9" fill="#FDC086" stroke="#262626" stroke-width="4.4"/>
<line x1="2079.15" y1="790.2" x2="2125.65" y2="790.2" stroke="#262626" stroke-width="8.7"/>
<line x1="2164.4" y1="658.6" x2="2164.4" y2="676" stroke="#262626" stroke-width="4.4"/>
<line x1="2164.4" y1="698.5" x2="2164.4" y2="699.2" stroke="#262626" stroke-width="4.4"/>
<rect x="2141.15" y="676" width="46.5" height="22.5" fill="#FDC086" stroke="#262626" stroke-width="4.4"/>
<line x1="2141.15" y1="695.5" x2="2187.65" y2="695.5" stroke="#262626" stroke-width="8.7"/>
<line x1="2226.4" y1="658.6" x2="2226.4" y2="676" stroke="#262626" stroke-width="4.4"/>
<line x1="2226.4" y1="698.5" x2="2226.4" y2="699.2" stroke="#262626" stroke-width="4.4"/>
<rect x="2203.15" y="676" width="46.5" height="22.5" fill="#FDC086" stroke="#262626" stroke-width="4.4"/>
<line x1="2203.15" y1="695.5" x2="2249.65" y2="695.5" stroke="#262626" stroke-width="8.7"/>
<line x1="2288.4" y1="588.2" x2="2288.4" y2="588.7" stroke="#262626" stroke-width="4.4"/>
<line x1="2288.4" y1="607.7" x2="2288.4" y2="623.2" stroke="#262626" stroke-width="4.4"/>
<rect x="2265.15" y="588.7" width="46.5" height="19" fill="#FDC086" stroke="#262626" stroke-width="4.4"/>
<line x1="2265.15" y1="592" x2="2311.65" y2="592" stroke="#262626" stroke-width="8.7"/>
<line x1="2350.4" y1="588.2" x2="2350.4" y2="588.7" stroke="#262626" stroke-width="4.4"/>
<line x1="2350.4" y1="624.4" x2="2350.4" y2="656.8" stroke="#262626" stroke-width="4.4"/>
<rect x="2327.15" y="588.7" width="46.5" height="35.7" fill="#FDC086" stroke="#262626" stroke-width="4.4"/>
<line x1="2327.15" y1="592" x2="2373.65" y2="592" stroke="#262626" stroke-width="8.7"/>
<line x1="2412.4" y1="658.6" x2="2412.4" y2="669.3" stroke="#262626" stroke-width="4.4"/>
<line x1="2412.4" y1="713.4" x2="2412.4" y2="745.3" stroke="#262626" stroke-width="4.4"/>
<rect x="2389.15" y="669.3" width="46.5" height="44.1" fill="#FDC086" stroke="#262626" stroke-width="4.4"/>
<line x1="2389.15" y1="679.3" x2="2435.65" y2="679.3" stroke="#262626" stroke-width="8.7"/>
</g>
<g>
<line x1="136.8" y1="1263.38" x2="891.5" y2="1263.38" stroke="#E9E9E9" stroke-width="3.0"/>
<line x1="136.8" y1="1127.22" x2="891.5" y2="1127.22" stroke="#E9E9E9" stroke-width="3.0"/>
<line x1="136.8" y1="991.08" x2="891.5" y2="991.08" stroke="#E9E9E9" stroke-width="3.0"/>
<line x1="136.8" y1="1195.3" x2="891.5" y2="1195.3" stroke="#E0E0E0" stroke-width="3.6"/>
<line x1="136.8" y1="1059.15" x2="891.5" y2="1059.15" stroke="#E0E0E0" stroke-width="3.6"/>
<line x1="136.8" y1="923" x2="891.5" y2="923" stroke="#E0E0E0" stroke-width="3.6"/>
<line x1="173.5" y1="920.2" x2="173.5" y2="1330.5" stroke="#E0E0E0" stroke-width="3.6"/>
<line x1="235.5" y1="920.2" x2="235.5" y2="1330.5" stroke="#E0E0E0" stroke-width="3.6"/>
<line x1="297.5" y1="920.2" x2="297.5" y2="1330.5" stroke="#E0E0E0" stroke-width="3.6"/>
<line x1="359.5" y1="920.2" x2="359.5" y2="1330.5" stroke="#E0E0E0" stroke-width="3.6"/>
<line x1="421.5" y1="920.2" x2="421.5" y2="1330.5" stroke="#E0E0E0" stroke-width="3.6"/>
<line x1="483.5" y1="920.2" x2="483.5" y2="1330.5" stroke="#E0E0E0" stroke-width="3.6"/>
<line x1="545.5" y1="920.2" x2="545.5" y2="1330.5" stroke="#E0E0E0" stroke-width="3.6"/>
<line x1="607.5" y1="920.2" x2="607.5" y2="1330.5" stroke="#E0E0E0" stroke-width="3.6"/>
<line x1="669.5" y1="920.2" x2="669.5" y2="1330.5" stroke="#E0E0E0" stroke-width="3.6"/>
<line x1="731.5" y1="920.2" x2="731.5" y2="1330.5" stroke="#E0E0E0" stroke-width="3.6"/>
<line x1="793.5" y1="920.2" x2="793.5" y2="1330.5" stroke="#E0E0E0" stroke-width="3.6"/>
<line x1="855.5" y1="920.2" x2="855.5" y2="1330.5" stroke="#E0E0E0" stroke-width="3.6"/>
<rect x="150.25" y="1256.9" width="46.5" height="0.01" fill="#7FC97F" stroke="#262626" stroke-width="4.4"/>
<line x1="150.25" y1="1256.9" x2="196.75" y2="1256.9" stroke="#262626" stroke-width="8.7"/>
<line x1="235.5" y1="1127.2" x2="235.5" y2="1129.2" stroke="#262626" stroke-width="4.4"/>
<line x1="235.5" y1="1138.5" x2="235.5" y2="1139.7" stroke="#262626" stroke-width="4.4"/>
<rect x="212.25" y="1129.2" width="46.5" height="9.3" fill="#7FC97F" stroke="#262626" stroke-width="4.4"/>
<line x1="212.25" y1="1134" x2="258.75" y2="1134" stroke="#262626" stroke-width="8.7"/>
<rect x="274.25" y="1076.6" width="46.5" height="3" fill="#7FC97F" stroke="#262626" stroke-width="4.4"/>
<line x1="274.25" y1="1078.1" x2="320.75" y2="1078.1" stroke="#262626" stroke-width="8.7"/>
<rect x="336.25" y="1152.4" width="46.5" height="3.6" fill="#7FC97F" stroke="#262626" stroke-width="4.4"/>
<line x1="336.25" y1="1154.2" x2="382.75" y2="1154.2" stroke="#262626" stroke-width="8.7"/>
<line x1="421.5" y1="1192.8" x2="421.5" y2="1199.6" stroke="#262626" stroke-width="4.4"/>
<line x1="421.5" y1="1209.5" x2="421.5" y2="1210.8" stroke="#262626" stroke-width="4.4"/>
<rect x="398.25" y="1199.6" width="46.5" height="9.9" fill="#7FC97F" stroke="#262626" stroke-width="4.4"/>
<line x1="398.25" y1="1204.5" x2="444.75" y2="1204.5" stroke="#262626" stroke-width="8.7"/>
<rect x="460.25" y="1298.6" width="46.5" height="0.01" fill="#7FC97F" stroke="#262626" stroke-width="4.4"/>
<line x1="460.25" y1="1298.6" x2="506.75" y2="1298.6" stroke="#262626" stroke-width="8.7"/>
<rect x="522.25" y="1302.5" width="46.5" height="0.01" fill="#7FC97F" stroke="#262626" stroke-width="4.4"/>
<line x1="522.25" y1="1302.5" x2="568.75" y2="1302.5" stroke="#262626" stroke-width="8.7"/>
<rect x="584.25" y="1310.5" width="46.5" height="0.01" fill="#7FC97F" stroke="#262626" stroke-width="4.4"/>
<line x1="584.25" y1="1310.5" x2="630.75" y2="1310.5" stroke="#262626" stroke-width="8.7"/>
<rect x="646.25" y="1310.5" width="46.5" height="0.01" fill="#7FC97F" stroke="#262626" stroke-width="4.4"/>
<line x1="646.25" y1="1310.5" x2="692.75" y2="1310.5" stroke="#262626" stroke-width="8.7"/>
<rect x="708.25" y="1309.8" width="46.5" height="0.01" fill="#7FC97F" stroke="#262626" stroke-width="4.4"/>
<line x1="708.25" y1="1309.8" x2="754.75" y2="1309.8" stroke="#262626" stroke-width="8.7"/>
<rect x="770.25" y="1305.5" width="46.5" height="0.01" fill="#7FC97F" stroke="#262626" stroke-width="4.4"/>
<line x1="770.25" y1="1305.5" x2="816.75" y2="1305.5" stroke="#262626" stroke-width="8.7"/>
<rect x="832.25" y="1294.3" width="46.5" height="0.01" fill="#7FC97F" stroke="#262626" stroke-width="4.4"/>
<line x1="832.25" y1="1294.3" x2="878.75" y2="1294.3" stroke="#262626" stroke-width="8.7"/>
</g>
<g>
<line x1="915.85" y1="1263.38" x2="1670.1" y2="1263.38" stroke="#E9E9E9" stroke-width="3.0"/>
<line x1="915.85" y1="1127.22" x2="1670.1" y2="1127.22" stroke="#E9E9E9" stroke-width="3.0"/>
<line x1="915.85" y1="991.08" x2="1670.1" y2="991.08" stroke="#E9E9E9" stroke-width="3.0"/>
<line x1="915.85" y1="1195.3" x2="1670.1" y2="1195.3" stroke="#E0E0E0" stroke-width="3.6"/>
<line x1="915.85" y1="1059.15" x2="1670.1" y2="1059.15" stroke="#E0E0E0" stroke-width="3.6"/>
<line x1="915.85" y1="923" x2="1670.1" y2="923" stroke="#E0E0E0" stroke-width="3.6"/>
<line x1="951.9" y1="920.2" x2="951.9" y2="1330.5" stroke="#E0E0E0" stroke-width="3.6"/>
<line x1="1013.9" y1="920.2" x2="1013.9" y2="1330.5" stroke="#E0E0E0" stroke-width="3.6"/>
<line x1="1075.9" y1="920.2" x2="1075.9" y2="1330.5" stroke="#E0E0E0" stroke-width="3.6"/>
<line x1="1137.9" y1="920.2" x2="1137.9" y2="1330.5" stroke="#E0E0E0" stroke-width="3.6"/>
<line x1="1199.9" y1="920.2" x2="1199.9" y2="1330.5" stroke="#E0E0E0" stroke-width="3.6"/>
<line x1="1261.9" y1="920.2" x2="1261.9" y2="1330.5" stroke="#E0E0E0" stroke-width="3.6"/>
<line x1="1323.9" y1="920.2" x2="1323.9" y2="1330.5" stroke="#E0E0E0" stroke-width="3.6"/>
<line x1="1385.9" y1="920.2" x2="1385.9" y2="1330.5" stroke="#E0E0E0" stroke-width="3.6"/>
<line x1="1447.9" y1="920.2" x2="1447.9" y2="1330.5" stroke="#E0E0E0" stroke-width="3.6"/>
<line x1="1509.9" y1="920.2" x2="1509.9" y2="1330.5" stroke="#E0E0E0" stroke-width="3.6"/>
<line x1="1571.9" y1="920.2" x2="1571.9" y2="1330.5" stroke="#E0E0E0" stroke-width="3.6"/>
<line x1="1633.9" y1="920.2" x2="1633.9" y2="1330.5" stroke="#E0E0E0" stroke-width="3.6"/>
<rect x="928.65" y="1064.4" width="46.5" height="0.01" fill="#BEAED4" stroke="#262626" stroke-width="4.4"/>
<line x1="928.65" y1="1064.4" x2="975.15" y2="1064.4" stroke="#262626" stroke-width="8.7"/>
<line x1="1013.9" y1="1016.3" x2="1013.9" y2="1022.2" stroke="#262626" stroke-width="4.4"/>
<line x1="1013.9" y1="1040.7" x2="1013.9" y2="1051.2" stroke="#262626" stroke-width="4.4"/>
<rect x="990.65" y="1022.2" width="46.5" height="18.5" fill="#BEAED4" stroke="#262626" stroke-width="4.4"/>
<line x1="990.65" y1="1028.6" x2="1037.15" y2="1028.6" stroke="#262626" stroke-width="8.7"/>
<rect x="1052.65" y="1005" width="46.5" height="0.01" fill="#BEAED4" stroke="#262626" stroke-width="4.4"/>
<line x1="1052.65" y1="1005" x2="1099.15" y2="1005" stroke="#262626" stroke-width="8.7"/>
<rect x="1114.65" y="1007.5" width="46.5" height="5" fill="#BEAED4" stroke="#262626" stroke-width="4.4"/>
<line x1="1114.65" y1="1010" x2="1161.15" y2="1010" stroke="#262626" stroke-width="8.7"/>
<rect x="1176.65" y="1163.9" width="46.5" height="0.01" fill="#BEAED4" stroke="#262626" stroke-width="4.4"/>
<line x1="1176.65" y1="1163.9" x2="1223.15" y2="1163.9" stroke="#262626" stroke-width="8.7"/>
<rect x="1238.65" y="1298.6" width="46.5" height="0.01" fill="#BEAED4" stroke="#262626" stroke-width="4.4"/>
<line x1="1238.65" y1="1298.6" x2="1285.15" y2="1298.6" stroke="#262626" stroke-width="8.7"/>
<rect x="1300.65" y="1300.5" width="46.5" height="0.01" fill="#BEAED4" stroke="#262626" stroke-width="4.4"/>
<line x1="1300.65" y1="1300.5" x2="1347.15" y2="1300.5" stroke="#262626" stroke-width="8.7"/>
<rect x="1362.65" y="1303.5" width="46.5" height="0.01" fill="#BEAED4" stroke="#262626" stroke-width="4.4"/>
<line x1="1362.65" y1="1303.5" x2="1409.15" y2="1303.5" stroke="#262626" stroke-width="8.7"/>
<rect x="1424.65" y="1304.3" width="46.5" height="0.01" fill="#BEAED4" stroke="#262626" stroke-width="4.4"/>
<line x1="1424.65" y1="1304.3" x2="1471.15" y2="1304.3" stroke="#262626" stroke-width="8.7"/>
<rect x="1486.65" y="1301.8" width="46.5" height="0.01" fill="#BEAED4" stroke="#262626" stroke-width="4.4"/>
<line x1="1486.65" y1="1301.8" x2="1533.15" y2="1301.8" stroke="#262626" stroke-width="8.7"/>
<rect x="1548.65" y="1300.5" width="46.5" height="0.01" fill="#BEAED4" stroke="#262626" stroke-width="4.4"/>
<line x1="1548.65" y1="1300.5" x2="1595.15" y2="1300.5" stroke="#262626" stroke-width="8.7"/>
<rect x="1610.65" y="1254.9" width="46.5" height="0.01" fill="#BEAED4" stroke="#262626" stroke-width="4.4"/>
<line x1="1610.65" y1="1254.9" x2="1657.15" y2="1254.9" stroke="#262626" stroke-width="8.7"/>
</g>
<g>
<line x1="1693.75" y1="1263.38" x2="2449.2" y2="1263.38" stroke="#E9E9E9" stroke-width="3.0"/>
<line x1="1693.75" y1="1127.22" x2="2449.2" y2="1127.22" stroke="#E9E9E9" stroke-width="3.0"/>
<line x1="1693.75" y1="991.08" x2="2449.2" y2="991.08" stroke="#E9E9E9" stroke-width="3.0"/>
<line x1="1693.75" y1="1195.3" x2="2449.2" y2="1195.3" stroke="#E0E0E0" stroke-width="3.6"/>
<line x1="1693.75" y1="1059.15" x2="2449.2" y2="1059.15" stroke="#E0E0E0" stroke-width="3.6"/>
<line x1="1693.75" y1="923" x2="2449.2" y2="923" stroke="#E0E0E0" stroke-width="3.6"/>
<line x1="1730.4" y1="920.2" x2="1730.4" y2="1330.5" stroke="#E0E0E0" stroke-width="3.6"/>
<line x1="1792.4" y1="920.2" x2="1792.4" y2="1330.5" stroke="#E0E0E0" stroke-width="3.6"/>
<line x1="1854.4" y1="920.2" x2="1854.4" y2="1330.5" stroke="#E0E0E0" stroke-width="3.6"/>
<line x1="1916.4" y1="920.2" x2="1916.4" y2="1330.5" stroke="#E0E0E0" stroke-width="3.6"/>
<line x1="1978.4" y1="920.2" x2="1978.4" y2="1330.5" stroke="#E0E0E0" stroke-width="3.6"/>
<line x1="2040.4" y1="920.2" x2="2040.4" y2="1330.5" stroke="#E0E0E0" stroke-width="3.6"/>
<line x1="2102.4" y1="920.2" x2="2102.4" y2="1330.5" stroke="#E0E0E0" stroke-width="3.6"/>
<line x1="2164.4" y1="920.2" x2="2164.4" y2="1330.5" stroke="#E0E0E0" stroke-width="3.6"/>
<line x1="2226.4" y1="920.2" x2="2226.4" y2="1330.5" stroke="#E0E0E0" stroke-width="3.6"/>
<line x1="2288.4" y1="920.2" x2="2288.4" y2="1330.5" stroke="#E0E0E0" stroke-width="3.6"/>
<line x1="2350.4" y1="920.2" x2="2350.4" y2="1330.5" stroke="#E0E0E0" stroke-width="3.6"/>
<line x1="2412.4" y1="920.2" x2="2412.4" y2="1330.5" stroke="#E0E0E0" stroke-width="3.6"/>
<line x1="1730.4" y1="992.6" x2="1730.4" y2="994.5" stroke="#262626" stroke-width="4.4"/>
<line x1="1730.4" y1="1006.6" x2="1730.4" y2="1016" stroke="#262626" stroke-width="4.4"/>
<rect x="1707.15" y="994.5" width="46.5" height="12.1" fill="#FDC086" stroke="#262626" stroke-width="4.4"/>
<line x1="1707.15" y1="995.5" x2="1753.65" y2="995.5" stroke="#262626" stroke-width="8.7"/>
<line x1="1792.4" y1="978.4" x2="1792.4" y2="980.1" stroke="#262626" stroke-width="4.4"/>
<rect x="1769.15" y="970.1" width="46.5" height="8.3" fill="#FDC086" stroke="#262626" stroke-width="4.4"/>
<line x1="1769.15" y1="974.4" x2="1815.65" y2="974.4" stroke="#262626" stroke-width="8.7"/>
<rect x="1831.15" y="948.9" width="46.5" height="0.01" fill="#FDC086" stroke="#262626" stroke-width="4.4"/>
<line x1="1831.15" y1="948.9" x2="1877.65" y2="948.9" stroke="#262626" stroke-width="8.7"/>
<rect x="1893.15" y="939.4" width="46.5" height="0.01" fill="#FDC086" stroke="#262626" stroke-width="4.4"/>
<line x1="1893.15" y1="939.4" x2="1939.65" y2="939.4" stroke="#262626" stroke-width="8.7"/>
<line x1="1978.4" y1="1288.1" x2="1978.4" y2="1289.3" stroke="#262626" stroke-width="4.4"/>
<rect x="1955.15" y="1280.6" width="46.5" height="7.5" fill="#FDC086" stroke="#262626" stroke-width="4.4"/>
<line x1="1955.15" y1="1284.3" x2="2001.65" y2="1284.3" stroke="#262626" stroke-width="8.7"/>
<rect x="2017.15" y="1307.5" width="46.5" height="0.01" fill="#FDC086" stroke="#262626" stroke-width="4.4"/>
<line x1="2017.15" y1="1307.5" x2="2063.65" y2="1307.5" stroke="#262626" stroke-width="8.7"/>
<rect x="2079.15" y="1309.3" width="46.5" height="0.01" fill="#FDC086" stroke="#262626" stroke-width="4.4"/>
<line x1="2079.15" y1="1309.3" x2="2125.65" y2="1309.3" stroke="#262626" stroke-width="8.7"/>
<line x1="2164.4" y1="1236.2" x2="2164.4" y2="1240.2" stroke="#262626" stroke-width="4.4"/>
<line x1="2164.4" y1="1251.9" x2="2164.4" y2="1253.2" stroke="#262626" stroke-width="4.4"/>
<rect x="2141.15" y="1240.2" width="46.5" height="11.7" fill="#FDC086" stroke="#262626" stroke-width="4.4"/>
<line x1="2141.15" y1="1245.7" x2="2187.65" y2="1245.7" stroke="#262626" stroke-width="8.7"/>
<rect x="2203.15" y="1245.2" width="46.5" height="7.2" fill="#FDC086" stroke="#262626" stroke-width="4.4"/>
<line x1="2203.15" y1="1248.2" x2="2249.65" y2="1248.2" stroke="#262626" stroke-width="8.7"/>
<rect x="2265.15" y="1244.4" width="46.5" height="7" fill="#FDC086" stroke="#262626" stroke-width="4.4"/>
<line x1="2265.15" y1="1246.9" x2="2311.65" y2="1246.9" stroke="#262626" stroke-width="8.7"/>
<line x1="2350.4" y1="1204.5" x2="2350.4" y2="1221.2" stroke="#262626" stroke-width="4.4"/>
<line x1="2350.4" y1="1248.7" x2="2350.4" y2="1253.7" stroke="#262626" stroke-width="4.4"/>
<rect x="2327.15" y="1221.2" width="46.5" height="27.5" fill="#FDC086" stroke="#262626" stroke-width="4.4"/>
<line x1="2327.15" y1="1240.3" x2="2373.65" y2="1240.3" stroke="#262626" stroke-width="8.7"/>
<line x1="2412.4" y1="1067.4" x2="2412.4" y2="1071.6" stroke="#262626" stroke-width="4.4"/>
<rect x="2389.15" y="1055.7" width="46.5" height="11.7" fill="#FDC086" stroke="#262626" stroke-width="4.4"/>
<line x1="2389.15" y1="1059.9" x2="2435.65" y2="1059.9" stroke="#262626" stroke-width="8.7"/>
</g>
<g>
<line x1="136.8" y1="1655.07" x2="891.5" y2="1655.07" stroke="#E9E9E9" stroke-width="3.0"/>
<line x1="136.8" y1="1526.03" x2="891.5" y2="1526.03" stroke="#E9E9E9" stroke-width="3.0"/>
<line x1="136.8" y1="1396.97" x2="891.5" y2="1396.97" stroke="#E9E9E9" stroke-width="3.0"/>
<line x1="136.8" y1="1719.6" x2="891.5" y2="1719.6" stroke="#E0E0E0" stroke-width="3.6"/>
<line x1="136.8" y1="1590.55" x2="891.5" y2="1590.55" stroke="#E0E0E0" stroke-width="3.6"/>
<line x1="136.8" y1="1461.5" x2="891.5" y2="1461.5" stroke="#E0E0E0" stroke-width="3.6"/>
<line x1="173.5" y1="1354.1" x2="173.5" y2="1764.45" stroke="#E0E0E0" stroke-width="3.6"/>
<line x1="235.5" y1="1354.1" x2="235.5" y2="1764.45" stroke="#E0E0E0" stroke-width="3.6"/>
<line x1="297.5" y1="1354.1" x2="297.5" y2="1764.45" stroke="#E0E0E0" stroke-width="3.6"/>
<line x1="359.5" y1="1354.1" x2="359.5" y2="1764.45" stroke="#E0E0E0" stroke-width="3.6"/>
<line x1="421.5" y1="1354.1" x2="421.5" y2="1764.45" stroke="#E0E0E0" stroke-width="3.6"/>
<line x1="483.5" y1="1354.1" x2="483.5" y2="1764.45" stroke="#E0E0E0" stroke-width="3.6"/>
<line x1="545.5" y1="1354.1" x2="545.5" y2="1764.45" stroke="#E0E0E0" stroke-width="3.6"/>
<line x1="607.5" y1="1354.1" x2="607.5" y2="1764.45" stroke="#E0E0E0" stroke-width="3.6"/>
<line x1="669.5" y1="1354.1" x2="669.5" y2="1764.45" stroke="#E0E0E0" stroke-width="3.6"/>
<line x1="731.5" y1="1354.1" x2="731.5" y2="1764.45" stroke="#E0E0E0" stroke-width="3.6"/>
<line x1="793.5" y1="1354.1" x2="793.5" y2="1764.45" stroke="#E0E0E0" stroke-width="3.6"/>
<line x1="855.5" y1="1354.1" x2="855.5" y2="1764.45" stroke="#E0E0E0" stroke-width="3.6"/>
<line x1="173.5" y1="1611.1" x2="173.5" y2="1612.9" stroke="#262626" stroke-width="4.4"/>
<line x1="173.5" y1="1623.6" x2="173.5" y2="1628.6" stroke="#262626" stroke-width="4.4"/>
<rect x="150.25" y="1612.9" width="46.5" height="10.7" fill="#7FC97F" stroke="#262626" stroke-width="4.4"/>
<line x1="150.25" y1="1617.8" x2="196.75" y2="1617.8" stroke="#262626" stroke-width="8.7"/>
<line x1="235.5" y1="1481.4" x2="235.5" y2="1526.3" stroke="#262626" stroke-width="4.4"/>
<rect x="212.25" y="1526.3" width="46.5" height="47.4" fill="#7FC97F" stroke="#262626" stroke-width="4.4"/>
<line x1="212.25" y1="1572" x2="258.75" y2="1572" stroke="#262626" stroke-width="8.7"/>
<line x1="297.5" y1="1430.3" x2="297.5" y2="1497.1" stroke="#262626" stroke-width="4.4"/>
<line x1="297.5" y1="1578.7" x2="297.5" y2="1589.9" stroke="#262626" stroke-width="4.4"/>
<rect x="274.25" y="1497.1" width="46.5" height="81.6" fill="#7FC97F" stroke="#262626" stroke-width="4.4"/>
<line x1="274.25" y1="1564.5" x2="320.75" y2="1564.5" stroke="#262626" stroke-width="8.7"/>
<line x1="359.5" y1="1533" x2="359.5" y2="1558.7" stroke="#262626" stroke-width="4.4"/>
<line x1="359.5" y1="1587.4" x2="359.5" y2="1588.7" stroke="#262626" stroke-width="4.4"/>
<rect x="336.25" y="1558.7" width="46.5" height="28.7" fill="#7FC97F" stroke="#262626" stroke-width="4.4"/>
<line x1="336.25" y1="1584.4" x2="382.75" y2="1584.4" stroke="#262626" stroke-width="8.7"/>
<line x1="421.5" y1="1424.1" x2="421.5" y2="1458.2" stroke="#262626" stroke-width="4.4"/>
<line x1="421.5" y1="1497.6" x2="421.5" y2="1498.9" stroke="#262626" stroke-width="4.4"/>
<rect x="398.25" y="1458.2" width="46.5" height="39.4" fill="#7FC97F" stroke="#262626" stroke-width="4.4"/>
<line x1="398.25" y1="1495.1" x2="444.75" y2="1495.1" stroke="#262626" stroke-width="8.7"/>
<line x1="483.5" y1="1649.8" x2="483.5" y2="1684.2" stroke="#262626" stroke-width="4.4"/>
<line x1="483.5" y1="1732.1" x2="483.5" y2="1744.5" stroke="#262626" stroke-width="4.4"/>
<rect x="460.25" y="1684.2" width="46.5" height="47.9" fill="#7FC97F" stroke="#262626" stroke-width="4.4"/>
<line x1="460.25" y1="1720.1" x2="506.75" y2="1720.1" stroke="#262626" stroke-width="8.7"/>
<line x1="545.5" y1="1714.6" x2="545.5" y2="1718.3" stroke="#262626" stroke-width="4.4"/>
<rect x="522.25" y="1704.1" width="46.5" height="10.5" fill="#7FC97F" stroke="#262626" stroke-width="4.4"/>
<line x1="522.25" y1="1709.6" x2="568.75" y2="1709.6" stroke="#262626" stroke-width="8.7"/>
<line x1="607.5" y1="1578.7" x2="607.5" y2="1593.6" stroke="#262626" stroke-width="4.4"/>
<line x1="607.5" y1="1613.6" x2="607.5" y2="1614.8" stroke="#262626" stroke-width="4.4"/>
<rect x="584.25" y="1593.6" width="46.5" height="20" fill="#7FC97F" stroke="#262626" stroke-width="4.4"/>
<line x1="584.25" y1="1610.4" x2="630.75" y2="1610.4" stroke="#262626" stroke-width="8.7"/>
<line x1="669.5" y1="1578.7" x2="669.5" y2="1593.6" stroke="#262626" stroke-width="4.4"/>
<line x1="669.5" y1="1613.6" x2="669.5" y2="1614.8" stroke="#262626" stroke-width="4.4"/>
<rect x="646.25" y="1593.6" width="46.5" height="20" fill="#7FC97F" stroke="#262626" stroke-width="4.4"/>
<line x1="646.25" y1="1610.4" x2="692.75" y2="1610.4" stroke="#262626" stroke-width="8.7"/>
<line x1="731.5" y1="1584.9" x2="731.5" y2="1587.4" stroke="#262626" stroke-width="4.4"/>
<line x1="731.5" y1="1601.1" x2="731.5" y2="1609.9" stroke="#262626" stroke-width="4.4"/>
<rect x="708.25" y="1587.4" width="46.5" height="13.7" fill="#7FC97F" stroke="#262626" stroke-width="4.4"/>
<line x1="708.25" y1="1592.4" x2="754.75" y2="1592.4" stroke="#262626" stroke-width="8.7"/>
<line x1="793.5" y1="1547" x2="793.5" y2="1571.2" stroke="#262626" stroke-width="4.4"/>
<line x1="793.5" y1="1604.9" x2="793.5" y2="1609.9" stroke="#262626" stroke-width="4.4"/>
<rect x="770.25" y="1571.2" width="46.5" height="33.7" fill="#7FC97F" stroke="#262626" stroke-width="4.4"/>
<line x1="770.25" y1="1598.6" x2="816.75" y2="1598.6" stroke="#262626" stroke-width="8.7"/>
<line x1="855.5" y1="1591.9" x2="855.5" y2="1599.9" stroke="#262626" stroke-width="4.4"/>
<line x1="855.5" y1="1620.3" x2="855.5" y2="1628.6" stroke="#262626" stroke-width="4.4"/>
<rect x="832.25" y="1599.9" width="46.5" height="20.4" fill="#7FC97F" stroke="#262626" stroke-width="4.4"/>
<line x1="832.25" y1="1609.9" x2="878.75" y2="1609.9" stroke="#262626" stroke-width="8.7"/>
</g>
<g>
<line x1="915.85" y1="1655.07" x2="1670.1" y2="1655.07" stroke="#E9E9E9" stroke-width="3.0"/>
<line x1="915.85" y1="1526.03" x2="1670.1" y2="1526.03" stroke="#E9E9E9" stroke-width="3.0"/>
<line x1="915.85" y1="1396.97" x2="1670.1" y2="1396.97" stroke="#E9E9E9" stroke-width="3.0"/>
<line x1="915.85" y1="1719.6" x2="1670.1" y2="1719.6" stroke="#E0E0E0" stroke-width="3.6"/>
<line x1="915.85" y1="1590.55" x2="1670.1" y2="1590.55" stroke="#E0E0E0" stroke-width="3.6"/>
<line x1="915.85" y1="1461.5" x2="1670.1" y2="1461.5" stroke="#E0E0E0" stroke-width="3.6"/>
<line x1="951.9" y1="1354.1" x2="951.9" y2="1764.45" stroke="#E0E0E0" stroke-width="3.6"/>
<line x1="1013.9" y1="1354.1" x2="1013.9" y2="1764.45" stroke="#E0E0E0" stroke-width="3.6"/>
<line x1="1075.9" y1="1354.1" x2="1075.9" y2="1764.45" stroke="#E0E0E0" stroke-width="3.6"/>
<line x1="1137.9" y1="1354.1" x2="1137.9" y2="1764.45" stroke="#E0E0E0" stroke-width="3.6"/>
<line x1="1199.9" y1="1354.1" x2="1199.9" y2="1764.45" stroke="#E0E0E0" stroke-width="3.6"/>
<line x1="1261.9" y1="1354.1" x2="1261.9" y2="1764.45" stroke="#E0E0E0" stroke-width="3.6"/>
<line x1="1323.9" y1="1354.1" x2="1323.9" y2="1764.45" stroke="#E0E0E0" stroke-width="3.6"/>
<line x1="1385.9" y1="1354.1" x2="1385.9" y2="1764.45" stroke="#E0E0E0" stroke-width="3.6"/>
<line x1="1447.9" y1="1354.1" x2="1447.9" y2="1764.45" stroke="#E0E0E0" stroke-width="3.6"/>
<line x1="1509.9" y1="1354.1" x2="1509.9" y2="1764.45" stroke="#E0E0E0" stroke-width="3.6"/>
<line x1="1571.9" y1="1354.1" x2="1571.9" y2="1764.45" stroke="#E0E0E0" stroke-width="3.6"/>
<line x1="1633.9" y1="1354.1" x2="1633.9" y2="1764.45" stroke="#E0E0E0" stroke-width="3.6"/>
<line x1="951.9" y1="1617.3" x2="951.9" y2="1648.5" stroke="#262626" stroke-width="4.4"/>
<line x1="951.9" y1="1684.2" x2="951.9" y2="1685.9" stroke="#262626" stroke-width="4.4"/>
<rect x="928.65" y="1648.5" width="46.5" height="35.7" fill="#BEAED4" stroke="#262626" stroke-width="4.4"/>
<line x1="928.65" y1="1681.7" x2="975.15" y2="1681.7" stroke="#262626" stroke-width="8.7"/>
<line x1="1013.9" y1="1606.9" x2="1013.9" y2="1621.8" stroke="#262626" stroke-width="4.4"/>
<rect x="990.65" y="1588.7" width="46.5" height="18.2" fill="#BEAED4" stroke="#262626" stroke-width="4.4"/>
<line x1="990.65" y1="1592.4" x2="1037.15" y2="1592.4" stroke="#262626" stroke-width="8.7"/>
<line x1="1075.9" y1="1462.7" x2="1075.9" y2="1474.4" stroke="#262626" stroke-width="4.4"/>
<line x1="1075.9" y1="1501.4" x2="1075.9" y2="1512.6" stroke="#262626" stroke-width="4.4"/>
<rect x="1052.65" y="1474.4" width="46.5" height="27" fill="#BEAED4" stroke="#262626" stroke-width="4.4"/>
<line x1="1052.65" y1="1487.7" x2="1099.15" y2="1487.7" stroke="#262626" stroke-width="8.7"/>
<rect x="1114.65" y="1425.8" width="46.5" height="7.5" fill="#BEAED4" stroke="#262626" stroke-width="4.4"/>
<line x1="1114.65" y1="1429.8" x2="1161.15" y2="1429.8" stroke="#262626" stroke-width="8.7"/>
<rect x="1176.65" y="1369.2" width="46.5" height="6.7" fill="#BEAED4" stroke="#262626" stroke-width="4.4"/>
<line x1="1176.65" y1="1372.5" x2="1223.15" y2="1372.5" stroke="#262626" stroke-width="8.7"/>
<line x1="1261.9" y1="1515.1" x2="1261.9" y2="1516.3" stroke="#262626" stroke-width="4.4"/>
<line x1="1261.9" y1="1543" x2="1261.9" y2="1563.7" stroke="#262626" stroke-width="4.4"/>
<rect x="1238.65" y="1516.3" width="46.5" height="26.7" fill="#BEAED4" stroke="#262626" stroke-width="4.4"/>
<line x1="1238.65" y1="1520.1" x2="1285.15" y2="1520.1" stroke="#262626" stroke-width="8.7"/>
<rect x="1300.65" y="1664.2" width="46.5" height="6.8" fill="#BEAED4" stroke="#262626" stroke-width="4.4"/>
<line x1="1300.65" y1="1667.7" x2="1347.15" y2="1667.7" stroke="#262626" stroke-width="8.7"/>
<line x1="1385.9" y1="1469.7" x2="1385.9" y2="1490.2" stroke="#262626" stroke-width="4.4"/>
<line x1="1385.9" y1="1523.1" x2="1385.9" y2="1532.1" stroke="#262626" stroke-width="4.4"/>
<rect x="1362.65" y="1490.2" width="46.5" height="32.9" fill="#BEAED4" stroke="#262626" stroke-width="4.4"/>
<line x1="1362.65" y1="1512.6" x2="1409.15" y2="1512.6" stroke="#262626" stroke-width="8.7"/>
<line x1="1447.9" y1="1469.7" x2="1447.9" y2="1490.2" stroke="#262626" stroke-width="4.4"/>
<line x1="1447.9" y1="1523.1" x2="1447.9" y2="1532.1" stroke="#262626" stroke-width="4.4"/>
<rect x="1424.65" y="1490.2" width="46.5" height="32.9" fill="#BEAED4" stroke="#262626" stroke-width="4.4"/>
<line x1="1424.65" y1="1512.6" x2="1471.15" y2="1512.6" stroke="#262626" stroke-width="8.7"/>
<line x1="1509.9" y1="1418.3" x2="1509.9" y2="1419.1" stroke="#262626" stroke-width="4.4"/>
<line x1="1509.9" y1="1445.8" x2="1509.9" y2="1467.2" stroke="#262626" stroke-width="4.4"/>
<rect x="1486.65" y="1419.1" width="46.5" height="26.7" fill="#BEAED4" stroke="#262626" stroke-width="4.4"/>
<line x1="1486.65" y1="1422.8" x2="1533.15" y2="1422.8" stroke="#262626" stroke-width="8.7"/>
<line x1="1571.9" y1="1391.7" x2="1571.9" y2="1399.9" stroke="#262626" stroke-width="4.4"/>
<line x1="1571.9" y1="1417.3" x2="1571.9" y2="1421.6" stroke="#262626" stroke-width="4.4"/>
<rect x="1548.65" y="1399.9" width="46.5" height="17.4" fill="#BEAED4" stroke="#262626" stroke-width="4.4"/>
<line x1="1548.65" y1="1412.5" x2="1595.15" y2="1412.5" stroke="#262626" stroke-width="8.7"/>
<line x1="1633.9" y1="1418.3" x2="1633.9" y2="1425.8" stroke="#262626" stroke-width="4.4"/>
<line x1="1633.9" y1="1439" x2="1633.9" y2="1440.3" stroke="#262626" stroke-width="4.4"/>
<rect x="1610.65" y="1425.8" width="46.5" height="13.2" fill="#BEAED4" stroke="#262626" stroke-width="4.4"/>
<line x1="1610.65" y1="1434" x2="1657.15" y2="1434" stroke="#262626" stroke-width="8.7"/>
</g>
<g>
<line x1="1693.75" y1="1655.07" x2="2449.2" y2="1655.07" stroke="#E9E9E9" stroke-width="3.0"/>
<line x1="1693.75" y1="1526.03" x2="2449.2" y2="1526.03" stroke="#E9E9E9" stroke-width="3.0"/>
<line x1="1693.75" y1="1396.97" x2="2449.2" y2="1396.97" stroke="#E9E9E9" stroke-width="3.0"/>
<line x1="1693.75" y1="1719.6" x2="2449.2" y2="1719.6" stroke="#E0E0E0" stroke-width="3.6"/>
<line x1="1693.75" y1="1590.55" x2="2449.2" y2="1590.55" stroke="#E0E0E0" stroke-width="3.6"/>
<line x1="1693.75" y1="1461.5" x2="2449.2" y2="1461.5" stroke="#E0E0E0" stroke-width="3.6"/>
<line x1="1730.4" y1="1354.1" x2="1730.4" y2="1764.45" stroke="#E0E0E0" stroke-width="3.6"/>
<line x1="1792.4" y1="1354.1" x2="1792.4" y2="1764.45" stroke="#E0E0E0" stroke-width="3.6"/>
<line x1="1854.4" y1="1354.1" x2="1854.4" y2="1764.45" stroke="#E0E0E0" stroke-width="3.6"/>
<line x1="1916.4" y1="1354.1" x2="1916.4" y2="1764.45" stroke="#E0E0E0" stroke-width="3.6"/>
<line x1="1978.4" y1="1354.1" x2="1978.4" y2="1764.45" stroke="#E0E0E0" stroke-width="3.6"/>
<line x1="2040.4" y1="1354.1" x2="2040.4" y2="1764.45" stroke="#E0E0E0" stroke-width="3.6"/>
<line x1="2102.4" y1="1354.1" x2="2102.4" y2="1764.45" stroke="#E0E0E0" stroke-width="3.6"/>
<line x1="2164.4" y1="1354.1" x2="2164.4" y2="1764.45" stroke="#E0E0E0" stroke-width="3.6"/>
<line x1="2226.4" y1="1354.1" x2="2226.4" y2="1764.45" stroke="#E0E0E0" stroke-width="3.6"/>
<line x1="2288.4" y1="1354.1" x2="2288.4" y2="1764.45" stroke="#E0E0E0" stroke-width="3.6"/>
<line x1="2350.4" y1="1354.1" x2="2350.4" y2="1764.45" stroke="#E0E0E0" stroke-width="3.6"/>
<line x1="2412.4" y1="1354.1" x2="2412.4" y2="1764.45" stroke="#E0E0E0" stroke-width="3.6"/>
<line x1="1730.4" y1="1488.9" x2="1730.4" y2="1490.2" stroke="#262626" stroke-width="4.4"/>
<line x1="1730.4" y1="1507.6" x2="1730.4" y2="1518.8" stroke="#262626" stroke-width="4.4"/>
<rect x="1707.15" y="1490.2" width="46.5" height="17.4" fill="#FDC086" stroke="#262626" stroke-width="4.4"/>
<line x1="1707.15" y1="1495.6" x2="1753.65" y2="1495.6" stroke="#262626" stroke-width="8.7"/>
<line x1="1792.4" y1="1430.8" x2="1792.4" y2="1436.5" stroke="#262626" stroke-width="4.4"/>
<line x1="1792.4" y1="1455.2" x2="1792.4" y2="1467.7" stroke="#262626" stroke-width="4.4"/>
<rect x="1769.15" y="1436.5" width="46.5" height="18.7" fill="#FDC086" stroke="#262626" stroke-width="4.4"/>
<line x1="1769.15" y1="1440.5" x2="1815.65" y2="1440.5" stroke="#262626" stroke-width="8.7"/>
<rect x="1831.15" y="1633.5" width="46.5" height="5" fill="#FDC086" stroke="#262626" stroke-width="4.4"/>
<line x1="1831.15" y1="1636" x2="1877.65" y2="1636" stroke="#262626" stroke-width="8.7"/>
<line x1="1916.4" y1="1579.9" x2="1916.4" y2="1583.7" stroke="#262626" stroke-width="4.4"/>
<rect x="1893.15" y="1583.7" width="46.5" height="9.2" fill="#FDC086" stroke="#262626" stroke-width="4.4"/>
<line x1="1893.15" y1="1588.7" x2="1939.65" y2="1588.7" stroke="#262626" stroke-width="8.7"/>
<line x1="1978.4" y1="1547" x2="1978.4" y2="1571.2" stroke="#262626" stroke-width="4.4"/>
<line x1="1978.4" y1="1613.6" x2="1978.4" y2="1628.6" stroke="#262626" stroke-width="4.4"/>
<rect x="1955.15" y="1571.2" width="46.5" height="42.4" fill="#FDC086" stroke="#262626" stroke-width="4.4"/>
<line x1="1955.15" y1="1596.9" x2="2001.65" y2="1596.9" stroke="#262626" stroke-width="8.7"/>
<rect x="2017.15" y="1658.5" width="46.5" height="5" fill="#FDC086" stroke="#262626" stroke-width="4.4"/>
<line x1="2017.15" y1="1661" x2="2063.65" y2="1661" stroke="#262626" stroke-width="8.7"/>
<rect x="2079.15" y="1739" width="46.5" height="0.01" fill="#FDC086" stroke="#262626" stroke-width="4.4"/>
<line x1="2079.15" y1="1739" x2="2125.65" y2="1739" stroke="#262626" stroke-width="8.7"/>
<line x1="2164.4" y1="1616.8" x2="2164.4" y2="1629.3" stroke="#262626" stroke-width="4.4"/>
<line x1="2164.4" y1="1646" x2="2164.4" y2="1647.3" stroke="#262626" stroke-width="4.4"/>
<rect x="2141.15" y="1629.3" width="46.5" height="16.7" fill="#FDC086" stroke="#262626" stroke-width="4.4"/>
<line x1="2141.15" y1="1639.8" x2="2187.65" y2="1639.8" stroke="#262626" stroke-width="8.7"/>
<line x1="2226.4" y1="1616.8" x2="2226.4" y2="1629.3" stroke="#262626" stroke-width="4.4"/>
<line x1="2226.4" y1="1646" x2="2226.4" y2="1647.3" stroke="#262626" stroke-width="4.4"/>
<rect x="2203.15" y="1629.3" width="46.5" height="16.7" fill="#FDC086" stroke="#262626" stroke-width="4.4"/>
<line x1="2203.15" y1="1639.8" x2="2249.65" y2="1639.8" stroke="#262626" stroke-width="8.7"/>
<line x1="2288.4" y1="1533.8" x2="2288.4" y2="1548.8" stroke="#262626" stroke-width="4.4"/>
<line x1="2288.4" y1="1581.2" x2="2288.4" y2="1596.1" stroke="#262626" stroke-width="4.4"/>
<rect x="2265.15" y="1548.8" width="46.5" height="32.4" fill="#FDC086" stroke="#262626" stroke-width="4.4"/>
<line x1="2265.15" y1="1564.5" x2="2311.65" y2="1564.5" stroke="#262626" stroke-width="8.7"/>
<line x1="2350.4" y1="1476.4" x2="2350.4" y2="1497.1" stroke="#262626" stroke-width="4.4"/>
<line x1="2350.4" y1="1538.8" x2="2350.4" y2="1557" stroke="#262626" stroke-width="4.4"/>
<rect x="2327.15" y="1497.1" width="46.5" height="41.7" fill="#FDC086" stroke="#262626" stroke-width="4.4"/>
<line x1="2327.15" y1="1518.8" x2="2373.65" y2="1518.8" stroke="#262626" stroke-width="8.7"/>
<line x1="2412.4" y1="1559.5" x2="2412.4" y2="1571.2" stroke="#262626" stroke-width="4.4"/>
<line x1="2412.4" y1="1587.9" x2="2412.4" y2="1588.7" stroke="#262626" stroke-width="4.4"/>
<rect x="2389.15" y="1571.2" width="46.5" height="16.7" fill="#FDC086" stroke="#262626" stroke-width="4.4"/>
<line x1="2389.15" y1="1581.9" x2="2435.65" y2="1581.9" stroke="#262626" stroke-width="8.7"/>
</g>
<rect x="136.8" y="14.7" width="754.7" height="37.95" fill="#D9D9D9"/>
<rect x="915.85" y="14.7" width="754.25" height="37.95" fill="#D9D9D9"/>
<rect x="1693.75" y="14.7" width="755.45" height="37.95" fill="#D9D9D9"/>
<rect x="2449.2" y="52.65" width="38.6" height="410.95" fill="#D9D9D9"/>
<rect x="2449.2" y="487.2" width="38.6" height="409.5" fill="#D9D9D9"/>
<rect x="2449.2" y="920.2" width="38.6" height="410.3" fill="#D9D9D9"/>
<rect x="2449.2" y="1354.1" width="38.6" height="410.35" fill="#D9D9D9"/>
<line x1="135.3" y1="52.65" x2="893" y2="52.65" stroke="#1b1b1b" stroke-width="4.2"/>
<line x1="135.3" y1="463.6" x2="893" y2="463.6" stroke="#303030" stroke-width="3.1"/>
<line x1="914.35" y1="52.65" x2="1671.6" y2="52.65" stroke="#1b1b1b" stroke-width="4.2"/>
<line x1="914.35" y1="463.6" x2="1671.6" y2="463.6" stroke="#303030" stroke-width="3.1"/>
<line x1="1692.25" y1="52.65" x2="2489.3" y2="52.65" stroke="#1b1b1b" stroke-width="4.2"/>
<line x1="1692.25" y1="463.6" x2="2489.3" y2="463.6" stroke="#303030" stroke-width="3.1"/>
<line x1="135.3" y1="487.2" x2="893" y2="487.2" stroke="#414141" stroke-width="3.1"/>
<line x1="135.3" y1="896.7" x2="893" y2="896.7" stroke="#2a2a2a" stroke-width="3.1"/>
<line x1="914.35" y1="487.2" x2="1671.6" y2="487.2" stroke="#414141" stroke-width="3.1"/>
<line x1="914.35" y1="896.7" x2="1671.6" y2="896.7" stroke="#2a2a2a" stroke-width="3.1"/>
<line x1="1692.25" y1="487.2" x2="2489.3" y2="487.2" stroke="#414141" stroke-width="3.1"/>
<line x1="1692.25" y1="896.7" x2="2489.3" y2="896.7" stroke="#2a2a2a" stroke-width="3.1"/>
<line x1="135.3" y1="920.2" x2="893" y2="920.2" stroke="#414141" stroke-width="3.1"/>
<line x1="135.3" y1="1330.5" x2="893" y2="1330.5" stroke="#363636" stroke-width="3.1"/>
<line x1="914.35" y1="920.2" x2="1671.6" y2="920.2" stroke="#414141" stroke-width="3.1"/>
<line x1="914.35" y1="1330.5" x2="1671.6" y2="1330.5" stroke="#363636" stroke-width="3.1"/>
<line x1="1692.25" y1="920.2" x2="2489.3" y2="920.2" stroke="#414141" stroke-width="3.1"/>
<line x1="1692.25" y1="1330.5" x2="2489.3" y2="1330.5" stroke="#363636" stroke-width="3.1"/>
<line x1="135.3" y1="1354.1" x2="893" y2="1354.1" stroke="#363636" stroke-width="3.1"/>
<line x1="135.3" y1="1764.45" x2="893" y2="1764.45" stroke="#646464" stroke-width="4.2"/>
<line x1="914.35" y1="1354.1" x2="1671.6" y2="1354.1" stroke="#363636" stroke-width="3.1"/>
<line x1="914.35" y1="1764.45" x2="1671.6" y2="1764.45" stroke="#646464" stroke-width="4.2"/>
<line x1="1692.25" y1="1354.1" x2="2489.3" y2="1354.1" stroke="#363636" stroke-width="3.1"/>
<line x1="1692.25" y1="1764.45" x2="2489.3" y2="1764.45" stroke="#646464" stroke-width="4.2"/>
<line x1="135.3" y1="14.7" x2="893" y2="14.7" stroke="#636363" stroke-width="3.1"/>
<line x1="914.35" y1="14.7" x2="1671.6" y2="14.7" stroke="#636363" stroke-width="3.1"/>
<line x1="1692.25" y1="14.7" x2="2450.7" y2="14.7" stroke="#636363" stroke-width="3.1"/>
<line x1="136.8" y1="13.2" x2="136.8" y2="465.1" stroke="#2a2a2a" stroke-width="3.1"/>
<line x1="891.5" y1="13.2" x2="891.5" y2="465.1" stroke="#656565" stroke-width="3.1"/>
<line x1="915.85" y1="13.2" x2="915.85" y2="465.1" stroke="#777777" stroke-width="3.1"/>
<line x1="1670.1" y1="13.2" x2="1670.1" y2="465.1" stroke="#414141" stroke-width="3.1"/>
<line x1="1693.75" y1="13.2" x2="1693.75" y2="465.1" stroke="#525252" stroke-width="3.1"/>
<line x1="2449.2" y1="13.2" x2="2449.2" y2="465.1" stroke="#111111" stroke-width="4.4"/>
<line x1="2487.8" y1="51.15" x2="2487.8" y2="465.1" stroke="#1a1a1a" stroke-width="3.1"/>
<line x1="136.8" y1="485.7" x2="136.8" y2="898.2" stroke="#2a2a2a" stroke-width="3.1"/>
<line x1="891.5" y1="485.7" x2="891.5" y2="898.2" stroke="#656565" stroke-width="3.1"/>
<line x1="915.85" y1="485.7" x2="915.85" y2="898.2" stroke="#777777" stroke-width="3.1"/>
<line x1="1670.1" y1="485.7" x2="1670.1" y2="898.2" stroke="#414141" stroke-width="3.1"/>
<line x1="1693.75" y1="485.7" x2="1693.75" y2="898.2" stroke="#525252" stroke-width="3.1"/>
<line x1="2449.2" y1="485.7" x2="2449.2" y2="898.2" stroke="#111111" stroke-width="4.4"/>
<line x1="2487.8" y1="485.7" x2="2487.8" y2="898.2" stroke="#1a1a1a" stroke-width="3.1"/>
<line x1="136.8" y1="918.7" x2="136.8" y2="1332" stroke="#2a2a2a" stroke-width="3.1"/>
<line x1="891.5" y1="918.7" x2="891.5" y2="1332" stroke="#656565" stroke-width="3.1"/>
<line x1="915.85" y1="918.7" x2="915.85" y2="1332" stroke="#777777" stroke-width="3.1"/>
<line x1="1670.1" y1="918.7" x2="1670.1" y2="1332" stroke="#414141" stroke-width="3.1"/>
<line x1="1693.75" y1="918.7" x2="1693.75" y2="1332" stroke="#525252" stroke-width="3.1"/>
<line x1="2449.2" y1="918.7" x2="2449.2" y2="1332" stroke="#111111" stroke-width="4.4"/>
<line x1="2487.8" y1="918.7" x2="2487.8" y2="1332" stroke="#1a1a1a" stroke-width="3.1"/>
<line x1="136.8" y1="1352.6" x2="136.8" y2="1765.95" stroke="#2a2a2a" stroke-width="3.1"/>
<line x1="891.5" y1="1352.6" x2="891.5" y2="1765.95" stroke="#656565" stroke-width="3.1"/>
<line x1="915.85" y1="1352.6" x2="915.85" y2="1765.95" stroke="#777777" stroke-width="3.1"/>
<line x1="1670.1" y1="1352.6" x2="1670.1" y2="1765.95" stroke="#414141" stroke-width="3.1"/>
<line x1="1693.75" y1="1352.6" x2="1693.75" y2="1765.95" stroke="#525252" stroke-width="3.1"/>
<line x1="2449.2" y1="1352.6" x2="2449.2" y2="1765.95" stroke="#111111" stroke-width="4.4"/>
<line x1="2487.8" y1="1352.6" x2="2487.8" y2="1765.95" stroke="#1a1a1a" stroke-width="3.1"/>
</g>
<g filter="url(#bt)">
<text transform="translate(514.15,44.4)" font-size="43.5" fill="#111111" text-anchor="middle">Sector : AH</text>
<text transform="translate(1292.97,44.4)" font-size="43.5" fill="#111111" text-anchor="middle">Sector : DG</text>
<text transform="translate(2071.47,44.4)" font-size="43.5" fill="#111111" text-anchor="middle">Sector : DJ</text>
<text transform="translate(2457.4,258.12) rotate(90)" font-size="43.5" fill="#111111" text-anchor="middle">Oxygen (mg/l)</text>
<text transform="translate(2457.4,691.95) rotate(90)" font-size="43.5" fill="#111111" text-anchor="middle">pH</text>
<text transform="translate(2457.4,1125.35) rotate(90)" font-size="43.5" fill="#111111" text-anchor="middle">Salinity (mg/l)</text>
<text transform="translate(2457.4,1559.28) rotate(90)" font-size="43.5" fill="#111111" text-anchor="middle">SST (°C)</text>
<text x="124" y="460.7" font-size="43" fill="#4D4D4D" stroke="#4D4D4D" stroke-width="0.4" text-anchor="end">4</text>
<text x="124" y="381.07" font-size="43" fill="#4D4D4D" stroke="#4D4D4D" stroke-width="0.4" text-anchor="end">5</text>
<text x="124" y="301.45" font-size="43" fill="#4D4D4D" stroke="#4D4D4D" stroke-width="0.4" text-anchor="end">6</text>
<text x="124" y="221.82" font-size="43" fill="#4D4D4D" stroke="#4D4D4D" stroke-width="0.4" text-anchor="end">7</text>
<text x="124" y="142.2" font-size="43" fill="#4D4D4D" stroke="#4D4D4D" stroke-width="0.4" text-anchor="end">8</text>
<text x="124" y="827.1" font-size="43" fill="#4D4D4D" stroke="#4D4D4D" stroke-width="0.4" text-anchor="end">6.5</text>
<text x="124" y="716.75" font-size="43" fill="#4D4D4D" stroke="#4D4D4D" stroke-width="0.4" text-anchor="end">7.0</text>
<text x="124" y="606.4" font-size="43" fill="#4D4D4D" stroke="#4D4D4D" stroke-width="0.4" text-anchor="end">7.5</text>
<text x="124" y="1210.5" font-size="43" fill="#4D4D4D" stroke="#4D4D4D" stroke-width="0.4" text-anchor="end">10</text>
<text x="124" y="1074.35" font-size="43" fill="#4D4D4D" stroke="#4D4D4D" stroke-width="0.4" text-anchor="end">20</text>
<text x="124" y="938.2" font-size="43" fill="#4D4D4D" stroke="#4D4D4D" stroke-width="0.4" text-anchor="end">30</text>
<text x="124" y="1734.8" font-size="43" fill="#4D4D4D" stroke="#4D4D4D" stroke-width="0.4" text-anchor="end">28</text>
<text x="124" y="1605.75" font-size="43" fill="#4D4D4D" stroke="#4D4D4D" stroke-width="0.4" text-anchor="end">30</text>
<text x="124" y="1476.7" font-size="43" fill="#4D4D4D" stroke="#4D4D4D" stroke-width="0.4" text-anchor="end">32</text>
<text transform="translate(189,1776.5) rotate(-90)" font-size="43" fill="#4D4D4D" stroke="#4D4D4D" stroke-width="0.4" text-anchor="end">Jan</text>
<text transform="translate(251,1776.5) rotate(-90)" font-size="43" fill="#4D4D4D" stroke="#4D4D4D" stroke-width="0.4" text-anchor="end">Feb</text>
<text transform="translate(313,1776.5) rotate(-90)" font-size="43" fill="#4D4D4D" stroke="#4D4D4D" stroke-width="0.4" text-anchor="end">Mar</text>
<text transform="translate(375,1776.5) rotate(-90)" font-size="43" fill="#4D4D4D" stroke="#4D4D4D" stroke-width="0.4" text-anchor="end">Apr</text>
<text transform="translate(437,1776.5) rotate(-90)" font-size="43" fill="#4D4D4D" stroke="#4D4D4D" stroke-width="0.4" text-anchor="end">May</text>
<text transform="translate(499,1776.5) rotate(-90)" font-size="43" fill="#4D4D4D" stroke="#4D4D4D" stroke-width="0.4" text-anchor="end">Jun</text>
<text transform="translate(561,1776.5) rotate(-90)" font-size="43" fill="#4D4D4D" stroke="#4D4D4D" stroke-width="0.4" text-anchor="end">Jul</text>
<text transform="translate(623,1776.5) rotate(-90)" font-size="43" fill="#4D4D4D" stroke="#4D4D4D" stroke-width="0.4" text-anchor="end">Aug</text>
<text transform="translate(685,1776.5) rotate(-90)" font-size="43" fill="#4D4D4D" stroke="#4D4D4D" stroke-width="0.4" text-anchor="end">Sep</text>
<text transform="translate(747,1776.5) rotate(-90)" font-size="43" fill="#4D4D4D" stroke="#4D4D4D" stroke-width="0.4" text-anchor="end">Oct</text>
<text transform="translate(809,1776.5) rotate(-90)" font-size="43" fill="#4D4D4D" stroke="#4D4D4D" stroke-width="0.4" text-anchor="end">Nov</text>
<text transform="translate(871,1776.5) rotate(-90)" font-size="43" fill="#4D4D4D" stroke="#4D4D4D" stroke-width="0.4" text-anchor="end">Dec</text>
<text transform="translate(967.4,1776.5) rotate(-90)" font-size="43" fill="#4D4D4D" stroke="#4D4D4D" stroke-width="0.4" text-anchor="end">Jan</text>
<text transform="translate(1029.4,1776.5) rotate(-90)" font-size="43" fill="#4D4D4D" stroke="#4D4D4D" stroke-width="0.4" text-anchor="end">Feb</text>
<text transform="translate(1091.4,1776.5) rotate(-90)" font-size="43" fill="#4D4D4D" stroke="#4D4D4D" stroke-width="0.4" text-anchor="end">Mar</text>
<text transform="translate(1153.4,1776.5) rotate(-90)" font-size="43" fill="#4D4D4D" stroke="#4D4D4D" stroke-width="0.4" text-anchor="end">Apr</text>
<text transform="translate(1215.4,1776.5) rotate(-90)" font-size="43" fill="#4D4D4D" stroke="#4D4D4D" stroke-width="0.4" text-anchor="end">May</text>
<text transform="translate(1277.4,1776.5) rotate(-90)" font-size="43" fill="#4D4D4D" stroke="#4D4D4D" stroke-width="0.4" text-anchor="end">Jun</text>
<text transform="translate(1339.4,1776.5) rotate(-90)" font-size="43" fill="#4D4D4D" stroke="#4D4D4D" stroke-width="0.4" text-anchor="end">Jul</text>
<text transform="translate(1401.4,1776.5) rotate(-90)" font-size="43" fill="#4D4D4D" stroke="#4D4D4D" stroke-width="0.4" text-anchor="end">Aug</text>
<text transform="translate(1463.4,1776.5) rotate(-90)" font-size="43" fill="#4D4D4D" stroke="#4D4D4D" stroke-width="0.4" text-anchor="end">Sep</text>
<text transform="translate(1525.4,1776.5) rotate(-90)" font-size="43" fill="#4D4D4D" stroke="#4D4D4D" stroke-width="0.4" text-anchor="end">Oct</text>
<text transform="translate(1587.4,1776.5) rotate(-90)" font-size="43" fill="#4D4D4D" stroke="#4D4D4D" stroke-width="0.4" text-anchor="end">Nov</text>
<text transform="translate(1649.4,1776.5) rotate(-90)" font-size="43" fill="#4D4D4D" stroke="#4D4D4D" stroke-width="0.4" text-anchor="end">Dec</text>
<text transform="translate(1745.9,1776.5) rotate(-90)" font-size="43" fill="#4D4D4D" stroke="#4D4D4D" stroke-width="0.4" text-anchor="end">Jan</text>
<text transform="translate(1807.9,1776.5) rotate(-90)" font-size="43" fill="#4D4D4D" stroke="#4D4D4D" stroke-width="0.4" text-anchor="end">Feb</text>
<text transform="translate(1869.9,1776.5) rotate(-90)" font-size="43" fill="#4D4D4D" stroke="#4D4D4D" stroke-width="0.4" text-anchor="end">Mar</text>
<text transform="translate(1931.9,1776.5) rotate(-90)" font-size="43" fill="#4D4D4D" stroke="#4D4D4D" stroke-width="0.4" text-anchor="end">Apr</text>
<text transform="translate(1993.9,1776.5) rotate(-90)" font-size="43" fill="#4D4D4D" stroke="#4D4D4D" stroke-width="0.4" text-anchor="end">May</text>
<text transform="translate(2055.9,1776.5) rotate(-90)" font-size="43" fill="#4D4D4D" stroke="#4D4D4D" stroke-width="0.4" text-anchor="end">Jun</text>
<text transform="translate(2117.9,1776.5) rotate(-90)" font-size="43" fill="#4D4D4D" stroke="#4D4D4D" stroke-width="0.4" text-anchor="end">Jul</text>
<text transform="translate(2179.9,1776.5) rotate(-90)" font-size="43" fill="#4D4D4D" stroke="#4D4D4D" stroke-width="0.4" text-anchor="end">Aug</text>
<text transform="translate(2241.9,1776.5) rotate(-90)" font-size="43" fill="#4D4D4D" stroke="#4D4D4D" stroke-width="0.4" text-anchor="end">Sep</text>
<text transform="translate(2303.9,1776.5) rotate(-90)" font-size="43" fill="#4D4D4D" stroke="#4D4D4D" stroke-width="0.4" text-anchor="end">Oct</text>
<text transform="translate(2365.9,1776.5) rotate(-90)" font-size="43" fill="#4D4D4D" stroke="#4D4D4D" stroke-width="0.4" text-anchor="end">Nov</text>
<text transform="translate(2427.9,1776.5) rotate(-90)" font-size="43" fill="#4D4D4D" stroke="#4D4D4D" stroke-width="0.4" text-anchor="end">Dec</text>
<text transform="translate(45.8,909.9) rotate(-90)" font-size="43" fill="#000000" stroke="#000000" stroke-width="0.4" text-anchor="middle">Value</text>
</g>
<g filter="url(#bg)">
<line x1="125.5" y1="445.5" x2="136.8" y2="445.5" stroke="#333333" stroke-width="2.8"/>
<line x1="125.5" y1="365.88" x2="136.8" y2="365.88" stroke="#333333" stroke-width="2.8"/>
<line x1="125.5" y1="286.25" x2="136.8" y2="286.25" stroke="#333333" stroke-width="2.8"/>
<line x1="125.5" y1="206.62" x2="136.8" y2="206.62" stroke="#333333" stroke-width="2.8"/>
<line x1="125.5" y1="127" x2="136.8" y2="127" stroke="#333333" stroke-width="2.8"/>
<line x1="125.5" y1="811.9" x2="136.8" y2="811.9" stroke="#333333" stroke-width="2.8"/>
<line x1="125.5" y1="701.55" x2="136.8" y2="701.55" stroke="#333333" stroke-width="2.8"/>
<line x1="125.5" y1="591.2" x2="136.8" y2="591.2" stroke="#333333" stroke-width="2.8"/>
<line x1="125.5" y1="1195.3" x2="136.8" y2="1195.3" stroke="#333333" stroke-width="2.8"/>
<line x1="125.5" y1="1059.15" x2="136.8" y2="1059.15" stroke="#333333" stroke-width="2.8"/>
<line x1="125.5" y1="923" x2="136.8" y2="923" stroke="#333333" stroke-width="2.8"/>
<line x1="125.5" y1="1719.6" x2="136.8" y2="1719.6" stroke="#333333" stroke-width="2.8"/>
<line x1="125.5" y1="1590.55" x2="136.8" y2="1590.55" stroke="#333333" stroke-width="2.8"/>
<line x1="125.5" y1="1461.5" x2="136.8" y2="1461.5" stroke="#333333" stroke-width="2.8"/>
<line x1="173.5" y1="1764.45" x2="173.5" y2="1775" stroke="#333333" stroke-width="2.8"/>
<line x1="235.5" y1="1764.45" x2="235.5" y2="1775" stroke="#333333" stroke-width="2.8"/>
<line x1="297.5" y1="1764.45" x2="297.5" y2="1775" stroke="#333333" stroke-width="2.8"/>
<line x1="359.5" y1="1764.45" x2="359.5" y2="1775" stroke="#333333" stroke-width="2.8"/>
<line x1="421.5" y1="1764.45" x2="421.5" y2="1775" stroke="#333333" stroke-width="2.8"/>
<line x1="483.5" y1="1764.45" x2="483.5" y2="1775" stroke="#333333" stroke-width="2.8"/>
<line x1="545.5" y1="1764.45" x2="545.5" y2="1775" stroke="#333333" stroke-width="2.8"/>
<line x1="607.5" y1="1764.45" x2="607.5" y2="1775" stroke="#333333" stroke-width="2.8"/>
<line x1="669.5" y1="1764.45" x2="669.5" y2="1775" stroke="#333333" stroke-width="2.8"/>
<line x1="731.5" y1="1764.45" x2="731.5" y2="1775" stroke="#333333" stroke-width="2.8"/>
<line x1="793.5" y1="1764.45" x2="793.5" y2="1775" stroke="#333333" stroke-width="2.8"/>
<line x1="855.5" y1="1764.45" x2="855.5" y2="1775" stroke="#333333" stroke-width="2.8"/>
<line x1="951.9" y1="1764.45" x2="951.9" y2="1775" stroke="#333333" stroke-width="2.8"/>
<line x1="1013.9" y1="1764.45" x2="1013.9" y2="1775" stroke="#333333" stroke-width="2.8"/>
<line x1="1075.9" y1="1764.45" x2="1075.9" y2="1775" stroke="#333333" stroke-width="2.8"/>
<line x1="1137.9" y1="1764.45" x2="1137.9" y2="1775" stroke="#333333" stroke-width="2.8"/>
<line x1="1199.9" y1="1764.45" x2="1199.9" y2="1775" stroke="#333333" stroke-width="2.8"/>
<line x1="1261.9" y1="1764.45" x2="1261.9" y2="1775" stroke="#333333" stroke-width="2.8"/>
<line x1="1323.9" y1="1764.45" x2="1323.9" y2="1775" stroke="#333333" stroke-width="2.8"/>
<line x1="1385.9" y1="1764.45" x2="1385.9" y2="1775" stroke="#333333" stroke-width="2.8"/>
<line x1="1447.9" y1="1764.45" x2="1447.9" y2="1775" stroke="#333333" stroke-width="2.8"/>
<line x1="1509.9" y1="1764.45" x2="1509.9" y2="1775" stroke="#333333" stroke-width="2.8"/>
<line x1="1571.9" y1="1764.45" x2="1571.9" y2="1775" stroke="#333333" stroke-width="2.8"/>
<line x1="1633.9" y1="1764.45" x2="1633.9" y2="1775" stroke="#333333" stroke-width="2.8"/>
<line x1="1730.4" y1="1764.45" x2="1730.4" y2="1775" stroke="#333333" stroke-width="2.8"/>
<line x1="1792.4" y1="1764.45" x2="1792.4" y2="1775" stroke="#333333" stroke-width="2.8"/>
<line x1="1854.4" y1="1764.45" x2="1854.4" y2="1775" stroke="#333333" stroke-width="2.8"/>
<line x1="1916.4" y1="1764.45" x2="1916.4" y2="1775" stroke="#333333" stroke-width="2.8"/>
<line x1="1978.4" y1="1764.45" x2="1978.4" y2="1775" stroke="#333333" stroke-width="2.8"/>
<line x1="2040.4" y1="1764.45" x2="2040.4" y2="1775" stroke="#333333" stroke-width="2.8"/>
<line x1="2102.4" y1="1764.45" x2="2102.4" y2="1775" stroke="#333333" stroke-width="2.8"/>
<line x1="2164.4" y1="1764.45" x2="2164.4" y2="1775" stroke="#333333" stroke-width="2.8"/>
<line x1="2226.4" y1="1764.45" x2="2226.4" y2="1775" stroke="#333333" stroke-width="2.8"/>
<line x1="2288.4" y1="1764.45" x2="2288.4" y2="1775" stroke="#333333" stroke-width="2.8"/>
<line x1="2350.4" y1="1764.45" x2="2350.4" y2="1775" stroke="#333333" stroke-width="2.8"/>
<line x1="2412.4" y1="1764.45" x2="2412.4" y2="1775" stroke="#333333" stroke-width="2.8"/>
</g>
</svg>
</body></html>
